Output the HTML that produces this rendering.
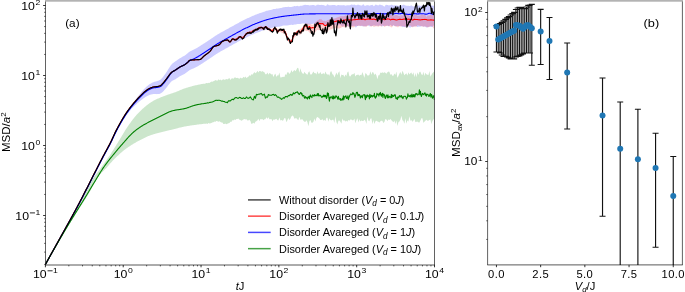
<!DOCTYPE html><html><head><meta charset="utf-8"><style>html,body{margin:0;padding:0;background:#fff;overflow:hidden;}svg{display:block;will-change:transform;}text{font-family:"Liberation Sans",sans-serif;fill:#000;}</style></head><body>
<svg width="685" height="292" viewBox="0 0 685 292">
<rect width="685" height="292" fill="#fff"/>
<defs><clipPath id="cl"><rect x="45.5" y="0" width="389" height="265.0"/></clipPath><clipPath id="cr"><rect x="487.6" y="0" width="194.8" height="264.9"/></clipPath></defs>
<g clip-path="url(#cl)">
<path d="M45.4,263.9 L45.9,263.36 L46.4,262.64 L46.9,261.74 L47.4,260.85 L47.9,259.95 L48.4,259.05 L48.9,258.16 L49.4,257.26 L49.9,256.37 L50.4,255.47 L50.9,254.57 L51.4,253.68 L51.9,252.78 L52.4,251.88 L52.9,250.99 L53.4,250.09 L53.9,249.2 L54.4,248.3 L54.9,247.4 L55.4,246.51 L55.9,245.61 L56.4,244.71 L56.9,243.82 L57.4,242.92 L57.9,242.02 L58.4,241.13 L58.9,240.23 L59.4,239.34 L59.9,238.44 L60.4,237.54 L60.9,236.65 L61.4,235.75 L61.9,234.85 L62.4,233.96 L62.9,233.06 L63.4,232.17 L63.9,231.27 L64.4,230.37 L64.9,229.48 L65.4,228.58 L65.9,227.68 L66.4,226.79 L66.9,225.89 L67.4,224.99 L67.9,224.1 L68.4,223.2 L68.9,222.31 L69.4,221.41 L69.9,220.51 L70.4,219.61 L70.9,218.7 L71.4,217.8 L71.9,216.89 L72.4,215.97 L72.9,215.06 L73.4,214.14 L73.9,213.22 L74.4,212.3 L74.9,211.38 L75.4,210.45 L75.9,209.53 L76.4,208.6 L76.9,207.66 L77.4,206.73 L77.9,205.79 L78.4,204.85 L78.9,203.91 L79.4,202.96 L79.9,202.01 L80.4,201.06 L80.9,200.11 L81.4,199.15 L81.9,198.19 L82.4,197.22 L82.9,196.25 L83.4,195.28 L83.9,194.3 L84.4,193.33 L84.9,192.35 L85.4,191.37 L85.9,190.39 L86.4,189.4 L86.9,188.42 L87.4,187.43 L87.9,186.45 L88.4,185.46 L88.9,184.47 L89.4,183.49 L89.9,182.5 L90.4,181.52 L90.9,180.54 L91.4,179.55 L91.9,178.58 L92.4,177.6 L92.9,176.62 L93.4,175.64 L93.9,174.67 L94.4,173.69 L94.9,172.71 L95.4,171.73 L95.9,170.75 L96.4,169.77 L96.9,168.8 L97.4,167.82 L97.9,166.84 L98.4,165.87 L98.9,164.89 L99.4,163.92 L99.9,162.95 L100.4,161.98 L100.9,161.01 L101.4,160.05 L101.9,159.09 L102.4,158.14 L102.9,157.19 L103.4,156.26 L103.9,155.33 L104.4,154.4 L104.9,153.48 L105.4,152.56 L105.9,151.64 L106.4,150.72 L106.9,149.8 L107.4,148.87 L107.9,147.94 L108.4,147.01 L108.9,146.06 L109.4,145.11 L109.9,144.14 L110.4,143.15 L110.9,142.13 L111.4,141.1 L111.9,140.03 L112.4,138.95 L112.9,137.84 L113.4,136.72 L113.9,135.61 L114.4,134.52 L114.9,133.45 L115.4,132.4 L115.9,131.39 L116.4,130.38 L116.9,129.4 L117.4,128.43 L117.9,127.47 L118.4,126.52 L118.9,125.58 L119.4,124.65 L119.9,123.74 L120.4,122.83 L120.9,121.93 L121.4,121.03 L121.9,120.15 L122.4,119.28 L122.9,118.42 L123.4,117.57 L123.9,116.73 L124.4,115.91 L124.9,115.1 L125.4,114.3 L125.9,113.52 L126.4,112.75 L126.9,111.98 L127.4,111.23 L127.9,110.49 L128.4,109.77 L128.9,109.05 L129.4,108.35 L129.9,107.66 L130.4,106.91 L130.9,106.16 L131.4,105.42 L131.9,104.69 L132.4,103.97 L132.9,103.26 L133.4,102.56 L133.9,101.86 L134.4,101.18 L134.9,100.5 L135.4,99.82 L135.9,99.15 L136.4,98.49 L136.9,97.84 L137.4,97.2 L137.9,96.56 L138.4,95.92 L138.9,95.3 L139.4,94.68 L139.9,94.06 L140.4,93.45 L140.9,92.83 L141.4,92.23 L141.9,91.62 L142.4,91.02 L142.9,90.44 L143.4,89.87 L143.9,89.31 L144.4,88.78 L144.9,88.27 L145.4,87.77 L145.9,87.29 L146.4,86.83 L146.9,86.37 L147.4,85.93 L147.9,85.5 L148.4,85.1 L148.9,84.71 L149.4,84.36 L149.9,84.02 L150.4,83.71 L150.9,83.42 L151.4,83.14 L151.9,82.87 L152.4,82.62 L152.9,82.39 L153.4,82.18 L153.9,81.99 L154.4,81.82 L154.9,81.66 L155.4,81.54 L155.9,81.42 L156.4,81.3 L156.9,81.17 L157.4,81.03 L157.9,80.87 L158.4,80.69 L158.9,80.49 L159.4,80.27 L159.9,80.01 L160.4,79.69 L160.9,79.3 L161.4,78.84 L161.9,78.31 L162.4,77.72 L162.9,77.1 L163.4,76.46 L163.9,75.8 L164.4,75.12 L164.9,74.42 L165.4,73.69 L165.9,72.96 L166.4,72.2 L166.9,71.44 L167.4,70.65 L167.9,69.85 L168.4,69.05 L168.9,68.25 L169.4,67.47 L169.9,66.71 L170.4,65.99 L170.9,65.33 L171.4,64.68 L171.9,64.11 L172.4,63.62 L172.9,63.17 L173.4,62.76 L173.9,62.41 L174.4,62.06 L174.9,61.69 L175.4,61.36 L175.9,61.02 L176.4,60.68 L176.9,60.33 L177.4,59.98 L177.9,59.62 L178.4,59.27 L178.9,58.93 L179.4,58.59 L179.9,58.27 L180.4,57.97 L180.9,57.67 L181.4,57.39 L181.9,57.12 L182.4,56.85 L182.9,56.58 L183.4,56.3 L183.9,56.02 L184.4,55.72 L184.9,55.39 L185.4,55.05 L185.9,54.67 L186.4,54.27 L186.9,53.86 L187.4,53.43 L187.9,53.01 L188.4,52.6 L188.9,52.21 L189.4,51.85 L189.9,51.52 L190.4,51.23 L190.9,50.96 L191.4,50.72 L191.9,50.49 L192.4,50.27 L192.9,50.05 L193.4,49.83 L193.9,49.61 L194.4,49.37 L194.9,49.12 L195.4,48.86 L195.9,48.58 L196.4,48.29 L196.9,47.99 L197.4,47.69 L197.9,47.37 L198.4,47.05 L198.9,46.73 L199.4,46.4 L199.9,46.07 L200.4,45.75 L200.9,45.43 L201.4,45.11 L201.9,44.8 L202.4,44.48 L202.9,44.17 L203.4,43.85 L203.9,43.53 L204.4,43.21 L204.9,42.88 L205.4,42.56 L205.9,42.23 L206.4,41.9 L206.9,41.57 L207.4,41.24 L207.9,40.91 L208.4,40.58 L208.9,40.25 L209.4,39.92 L209.9,39.58 L210.4,39.25 L210.9,38.92 L211.4,38.58 L211.9,38.24 L212.4,37.9 L212.9,37.55 L213.4,37.21 L213.9,36.87 L214.4,36.53 L214.9,36.2 L215.4,35.86 L215.9,35.54 L216.4,35.21 L216.9,34.9 L217.4,34.59 L217.9,34.28 L218.4,33.99 L218.9,33.69 L219.4,33.41 L219.9,33.12 L220.4,32.84 L220.9,32.57 L221.4,32.29 L221.9,32.02 L222.4,31.75 L222.9,31.47 L223.4,31.2 L223.9,30.93 L224.4,30.65 L224.9,30.37 L225.4,30.1 L225.9,29.82 L226.4,29.54 L226.9,29.26 L227.4,28.98 L227.9,28.7 L228.4,28.42 L228.9,28.14 L229.4,27.86 L229.9,27.58 L230.4,27.31 L230.9,27.03 L231.4,26.75 L231.9,26.48 L232.4,26.2 L232.9,25.93 L233.4,25.66 L233.9,25.38 L234.4,25.11 L234.9,24.83 L235.4,24.55 L235.9,24.28 L236.4,24 L236.9,23.73 L237.4,23.45 L237.9,23.18 L238.4,22.91 L238.9,22.64 L239.4,22.37 L239.9,22.1 L240.4,21.83 L240.9,21.57 L241.4,21.31 L241.9,21.05 L242.4,20.8 L242.9,20.55 L243.4,20.3 L243.9,20.05 L244.4,19.81 L244.9,19.56 L245.4,19.32 L245.9,19.08 L246.4,18.84 L246.9,18.6 L247.4,18.36 L247.9,18.12 L248.4,17.89 L248.9,17.65 L249.4,17.42 L249.9,17.19 L250.4,16.96 L250.9,16.74 L251.4,16.51 L251.9,16.29 L252.4,16.07 L252.9,15.85 L253.4,15.64 L253.9,15.43 L254.4,15.22 L254.9,15.01 L255.4,14.8 L255.9,14.62 L256.4,14.45 L256.9,14.29 L257.4,14.08 L257.9,13.87 L258.4,13.65 L258.9,13.46 L259.4,13.27 L259.9,13.08 L260.4,12.94 L260.9,12.81 L261.4,12.69 L261.9,12.52 L262.4,12.36 L262.9,12.2 L263.4,12.01 L263.9,11.82 L264.4,11.63 L264.9,11.41 L265.4,11.18 L265.9,10.96 L266.4,10.84 L266.9,10.74 L267.4,10.63 L267.9,10.54 L268.4,10.45 L268.9,10.37 L269.4,10.22 L269.9,10.08 L270.4,9.94 L270.9,9.89 L271.4,9.85 L271.9,9.81 L272.4,9.57 L272.9,9.32 L273.4,9.07 L273.9,9.07 L274.4,9.07 L274.9,9.07 L275.4,8.91 L275.9,8.74 L276.4,8.58 L276.9,8.59 L277.4,8.62 L277.9,8.64 L278.4,8.48 L278.9,8.31 L279.4,8.14 L279.9,8.13 L280.4,8.12 L280.9,8.12 L281.4,7.94 L281.9,7.75 L282.4,7.57 L282.9,7.44 L283.4,7.32 L283.9,7.2 L284.4,7.15 L284.9,7.1 L285.4,7.06 L285.9,7.03 L286.4,7.01 L286.9,6.98 L287.4,6.89 L287.9,6.8 L288.4,6.71 L288.9,6.83 L289.4,6.96 L289.9,7.1 L290.4,7.06 L290.9,7.03 L291.4,6.99 L291.9,6.85 L292.4,6.71 L292.9,6.57 L293.4,6.41 L293.9,6.24 L294.4,6.07 L294.9,6.1 L295.4,6.14 L295.9,6.17 L296.4,6.07 L296.9,5.96 L297.4,5.85 L297.9,6.01 L298.4,6.17 L298.9,6.34 L299.4,6.17 L299.9,6.01 L300.4,5.84 L300.9,5.81 L301.4,5.78 L301.9,5.75 L302.4,5.61 L302.9,5.47 L303.4,5.34 L303.9,5.12 L304.4,4.91 L304.9,4.69 L305.4,4.81 L305.9,4.93 L306.4,5.06 L306.9,5 L307.4,4.95 L307.9,4.89 L308.4,5.06 L308.9,5.23 L309.4,5.41 L309.9,5.36 L310.4,5.32 L310.9,5.28 L311.4,5.16 L311.9,5.03 L312.4,4.91 L312.9,4.95 L313.4,5 L313.9,5.05 L314.4,5.3 L314.9,5.56 L315.4,5.83 L315.9,5.48 L316.4,5.13 L316.9,4.77 L317.4,4.77 L317.9,4.77 L318.4,4.78 L318.9,4.87 L319.4,4.97 L319.9,5.06 L320.4,4.99 L320.9,4.92 L321.4,4.85 L321.9,4.89 L322.4,4.93 L322.9,4.97 L323.4,5.11 L323.9,5.26 L324.4,5.41 L324.9,5.6 L325.4,5.79 L325.9,5.98 L326.4,5.43 L326.9,4.87 L327.4,4.3 L327.9,4.58 L328.4,4.87 L328.9,5.15 L329.4,5.16 L329.9,5.17 L330.4,5.18 L330.9,5.16 L331.4,5.14 L331.9,5.12 L332.4,5.1 L332.9,5.09 L333.4,5.08 L333.9,5.06 L334.4,5.04 L334.9,5.02 L335.4,5.25 L335.9,5.49 L336.4,5.72 L336.9,5.47 L337.4,5.22 L337.9,4.97 L338.4,5.02 L338.9,5.07 L339.4,5.13 L339.9,5.15 L340.4,5.16 L340.9,5.18 L341.4,5.2 L341.9,5.21 L342.4,5.23 L342.9,5.18 L343.4,5.13 L343.9,5.09 L344.4,5.29 L344.9,5.49 L345.4,5.7 L345.9,5.54 L346.4,5.38 L346.9,5.22 L347.4,5.28 L347.9,5.32 L348.4,5.35 L348.9,5.3 L349.4,5.24 L349.9,5.17 L350.4,4.97 L350.9,4.78 L351.4,4.59 L351.9,4.61 L352.4,4.64 L352.9,4.68 L353.4,4.66 L353.9,4.63 L354.4,4.6 L354.9,4.83 L355.4,5.06 L355.9,5.29 L356.4,5.14 L356.9,4.99 L357.4,4.84 L357.9,4.79 L358.4,4.73 L358.9,4.68 L359.4,4.91 L359.9,5.14 L360.4,5.37 L360.9,5.41 L361.4,5.44 L361.9,5.47 L362.4,5.04 L362.9,4.62 L363.4,4.2 L363.9,4.81 L364.4,5.43 L364.9,6.06 L365.4,5.79 L365.9,5.5 L366.4,5.21 L366.9,5.19 L367.4,5.16 L367.9,5.12 L368.4,5.31 L368.9,5.51 L369.4,5.72 L369.9,5.54 L370.4,5.37 L370.9,5.2 L371.4,5.09 L371.9,4.98 L372.4,4.86 L372.9,5.36 L373.4,5.87 L373.9,6.37 L374.4,5.77 L374.9,5.17 L375.4,4.56 L375.9,4.71 L376.4,4.86 L376.9,5.01 L377.4,5.15 L377.9,5.3 L378.4,5.47 L378.9,5.12 L379.4,4.8 L379.9,4.48 L380.4,4.7 L380.9,4.91 L381.4,5.12 L381.9,5.24 L382.4,5.37 L382.9,5.49 L383.4,5.89 L383.9,6.28 L384.4,6.64 L384.9,6.01 L385.4,5.36 L385.9,4.68 L386.4,4.77 L386.9,4.88 L387.4,5 L387.9,5.12 L388.4,5.26 L388.9,5.42 L389.4,5.34 L389.9,5.26 L390.4,5.19 L390.9,4.98 L391.4,4.78 L391.9,4.58 L392.4,4.92 L392.9,5.23 L393.4,5.53 L393.9,5.44 L394.4,5.34 L394.9,5.21 L395.4,5.19 L395.9,5.21 L396.4,5.25 L396.9,5.38 L397.4,5.54 L397.9,5.72 L398.4,5.76 L398.9,5.77 L399.4,5.76 L399.9,5.64 L400.4,5.49 L400.9,5.31 L401.4,5.24 L401.9,5.19 L402.4,5.18 L402.9,4.95 L403.4,4.76 L403.9,4.6 L404.4,4.89 L404.9,5.17 L405.4,5.45 L405.9,5.6 L406.4,5.74 L406.9,5.87 L407.4,5.82 L407.9,5.75 L408.4,5.67 L408.9,5.78 L409.4,5.88 L409.9,5.97 L410.4,5.78 L410.9,5.57 L411.4,5.34 L411.9,5.72 L412.4,6.08 L412.9,6.41 L413.4,6.41 L413.9,6.44 L414.4,6.51 L414.9,6 L415.4,5.53 L415.9,5.09 L416.4,5.3 L416.9,5.49 L417.4,5.67 L417.9,5.55 L418.4,5.41 L418.9,5.25 L419.4,5.51 L419.9,5.77 L420.4,6.04 L420.9,5.87 L421.4,5.7 L421.9,5.54 L422.4,5.47 L422.9,5.41 L423.4,5.38 L423.9,5.38 L424.4,5.39 L424.9,5.43 L425.4,5.59 L425.9,5.7 L426.4,5.75 L426.9,5.46 L427.4,5.11 L427.9,4.7 L428.4,4.84 L428.9,5.05 L429.4,5.34 L429.9,5.08 L430.4,4.89 L430.9,4.77 L431.4,5.18 L431.9,5.54 L432.4,5.86 L432.9,5.8 L433.4,5.69 L433.9,5.55 L434.4,5.7 L434.4,25.82 L433.9,25.15 L433.4,25.87 L432.9,26.56 L432.4,27.21 L431.9,27.11 L431.4,26.97 L430.9,26.79 L430.4,26.7 L429.9,26.69 L429.4,26.75 L428.9,26.84 L428.4,26.99 L427.9,27.22 L427.4,27.37 L426.9,27.46 L426.4,27.49 L425.9,27.17 L425.4,26.8 L424.9,26.38 L424.4,26.52 L423.9,26.69 L423.4,26.87 L422.9,26.59 L422.4,26.34 L421.9,26.11 L421.4,26.33 L420.9,26.56 L420.4,26.79 L419.9,26.72 L419.4,26.66 L418.9,26.6 L418.4,26.78 L417.9,26.94 L417.4,27.08 L416.9,26.66 L416.4,26.22 L415.9,25.77 L415.4,26.02 L414.9,26.3 L414.4,26.63 L413.9,26.56 L413.4,26.53 L412.9,26.53 L412.4,26.66 L411.9,26.77 L411.4,26.86 L410.9,27.15 L410.4,27.43 L409.9,27.68 L409.4,27.27 L408.9,26.84 L408.4,26.4 L407.9,26.32 L407.4,26.22 L406.9,26.11 L406.4,26.51 L405.9,26.9 L405.4,27.28 L404.9,27.15 L404.4,27 L403.9,26.85 L403.4,26.93 L402.9,27.05 L402.4,27.2 L401.9,26.66 L401.4,26.16 L400.9,25.69 L400.4,25.93 L399.9,26.15 L399.4,26.34 L398.9,26.18 L398.4,26 L397.9,25.79 L397.4,26.01 L396.9,26.26 L396.4,26.53 L395.9,26.31 L395.4,26.12 L394.9,25.95 L394.4,25.79 L393.9,25.61 L393.4,25.4 L392.9,25.65 L392.4,25.88 L391.9,26.08 L391.4,25.64 L390.9,25.19 L390.4,24.75 L389.9,25.35 L389.4,25.96 L388.9,26.56 L388.4,26.21 L387.9,25.87 L387.4,25.55 L386.9,25.62 L386.4,25.71 L385.9,25.82 L385.4,25.79 L384.9,25.75 L384.4,25.68 L383.9,25.91 L383.4,26.12 L382.9,26.31 L382.4,26.27 L381.9,26.22 L381.4,26.16 L380.9,25.85 L380.4,25.54 L379.9,25.22 L379.4,25.44 L378.9,25.68 L378.4,25.92 L377.9,25.8 L377.4,25.69 L376.9,25.6 L376.4,25.65 L375.9,25.7 L375.4,25.75 L374.9,25.6 L374.4,25.44 L373.9,25.28 L373.4,25.51 L372.9,25.72 L372.4,25.93 L371.9,25.92 L371.4,25.91 L370.9,25.89 L370.4,26.03 L369.9,26.17 L369.4,26.31 L368.9,25.96 L368.4,25.62 L367.9,25.28 L367.4,25.57 L366.9,25.86 L366.4,26.14 L365.9,26.24 L365.4,26.34 L364.9,26.43 L364.4,26.34 L363.9,26.27 L363.4,26.2 L362.9,26.2 L362.4,26.21 L361.9,26.22 L361.4,26.09 L360.9,25.95 L360.4,25.81 L359.9,25.8 L359.4,25.79 L358.9,25.77 L358.4,25.87 L357.9,25.96 L357.4,26.06 L356.9,26.59 L356.4,27.11 L355.9,27.63 L355.4,27 L354.9,26.37 L354.4,25.74 L353.9,25.81 L353.4,25.88 L352.9,25.95 L352.4,26.02 L351.9,26.11 L351.4,26.2 L350.9,26.08 L350.4,25.97 L349.9,25.87 L349.4,26.13 L348.9,26.37 L348.4,26.6 L347.9,26.35 L347.4,26.09 L346.9,25.82 L346.4,25.58 L345.9,25.35 L345.4,25.12 L344.9,25.22 L344.4,25.33 L343.9,25.44 L343.4,25.88 L342.9,26.32 L342.4,26.76 L341.9,26.29 L341.4,25.82 L340.9,25.36 L340.4,25.01 L339.9,24.67 L339.4,24.33 L338.9,24.83 L338.4,25.34 L337.9,25.84 L337.4,25.49 L336.9,25.14 L336.4,24.78 L335.9,24.87 L335.4,24.95 L334.9,25.03 L334.4,24.92 L333.9,24.8 L333.4,24.68 L332.9,24.81 L332.4,24.93 L331.9,25.06 L331.4,25.09 L330.9,25.12 L330.4,25.15 L329.9,25.12 L329.4,25.09 L328.9,25.05 L328.4,25.06 L327.9,25.07 L327.4,25.08 L326.9,24.96 L326.4,24.85 L325.9,24.73 L325.4,24.66 L324.9,24.58 L324.4,24.51 L323.9,24.51 L323.4,24.52 L322.9,24.52 L322.4,24.61 L321.9,24.69 L321.4,24.77 L320.9,24.74 L320.4,24.72 L319.9,24.7 L319.4,24.61 L318.9,24.53 L318.4,24.45 L317.9,24.58 L317.4,24.71 L316.9,24.84 L316.4,24.54 L315.9,24.24 L315.4,23.94 L314.9,23.81 L314.4,23.69 L313.9,23.56 L313.4,23.69 L312.9,23.82 L312.4,23.94 L311.9,23.95 L311.4,23.95 L310.9,23.96 L310.4,24.15 L309.9,24.33 L309.4,24.51 L308.9,24.33 L308.4,24.16 L307.9,23.99 L307.4,24.09 L306.9,24.2 L306.4,24.3 L305.9,24.11 L305.4,23.92 L304.9,23.75 L304.4,23.64 L303.9,23.54 L303.4,23.45 L302.9,23.5 L302.4,23.55 L301.9,23.6 L301.4,23.75 L300.9,23.9 L300.4,24.05 L299.9,24 L299.4,23.97 L298.9,23.95 L298.4,23.97 L297.9,23.99 L297.4,24.02 L296.9,24.18 L296.4,24.35 L295.9,24.51 L295.4,24.54 L294.9,24.58 L294.4,24.61 L293.9,24.74 L293.4,24.86 L292.9,24.98 L292.4,24.9 L291.9,24.83 L291.4,24.76 L290.9,24.84 L290.4,24.92 L289.9,25 L289.4,25.07 L288.9,25.14 L288.4,25.21 L287.9,25.3 L287.4,25.4 L286.9,25.49 L286.4,25.52 L285.9,25.55 L285.4,25.58 L284.9,25.51 L284.4,25.45 L283.9,25.39 L283.4,25.55 L282.9,25.7 L282.4,25.85 L281.9,26.01 L281.4,26.17 L280.9,26.33 L280.4,26.44 L279.9,26.55 L279.4,26.65 L278.9,26.71 L278.4,26.77 L277.9,26.82 L277.4,26.86 L276.9,26.9 L276.4,26.94 L275.9,27.09 L275.4,27.24 L274.9,27.39 L274.4,27.49 L273.9,27.6 L273.4,27.7 L272.9,27.75 L272.4,27.81 L271.9,27.86 L271.4,28 L270.9,28.13 L270.4,28.26 L269.9,28.45 L269.4,28.64 L268.9,28.83 L268.4,28.96 L267.9,29.09 L267.4,29.22 L266.9,29.38 L266.4,29.54 L265.9,29.71 L265.4,29.77 L264.9,29.85 L264.4,29.93 L263.9,30.12 L263.4,30.31 L262.9,30.5 L262.4,30.66 L261.9,30.82 L261.4,30.99 L260.9,31.23 L260.4,31.47 L259.9,31.7 L259.4,31.89 L258.9,32.07 L258.4,32.26 L257.9,32.43 L257.4,32.6 L256.9,32.78 L256.4,32.95 L255.9,33.13 L255.4,33.32 L254.9,33.54 L254.4,33.77 L253.9,33.99 L253.4,34.2 L252.9,34.41 L252.4,34.63 L251.9,34.85 L251.4,35.07 L250.9,35.3 L250.4,35.54 L249.9,35.77 L249.4,36 L248.9,36.24 L248.4,36.48 L247.9,36.72 L247.4,36.96 L246.9,37.2 L246.4,37.44 L245.9,37.68 L245.4,37.93 L244.9,38.18 L244.4,38.42 L243.9,38.67 L243.4,38.92 L242.9,39.17 L242.4,39.43 L241.9,39.69 L241.4,39.95 L240.9,40.21 L240.4,40.48 L239.9,40.75 L239.4,41.02 L238.9,41.29 L238.4,41.56 L237.9,41.84 L237.4,42.12 L236.9,42.4 L236.4,42.67 L235.9,42.95 L235.4,43.23 L234.9,43.51 L234.4,43.79 L233.9,44.07 L233.4,44.35 L232.9,44.62 L232.4,44.9 L231.9,45.18 L231.4,45.46 L230.9,45.74 L230.4,46.02 L229.9,46.3 L229.4,46.58 L228.9,46.86 L228.4,47.14 L227.9,47.43 L227.4,47.71 L226.9,47.99 L226.4,48.28 L225.9,48.56 L225.4,48.84 L224.9,49.12 L224.4,49.4 L223.9,49.68 L223.4,49.96 L222.9,50.23 L222.4,50.51 L221.9,50.79 L221.4,51.06 L220.9,51.34 L220.4,51.62 L219.9,51.91 L219.4,52.19 L218.9,52.48 L218.4,52.78 L217.9,53.08 L217.4,53.39 L216.9,53.7 L216.4,54.02 L215.9,54.34 L215.4,54.68 L214.9,55.01 L214.4,55.35 L213.9,55.69 L213.4,56.04 L212.9,56.38 L212.4,56.73 L211.9,57.07 L211.4,57.42 L210.9,57.76 L210.4,58.1 L209.9,58.43 L209.4,58.77 L208.9,59.1 L208.4,59.44 L207.9,59.77 L207.4,60.11 L206.9,60.44 L206.4,60.77 L205.9,61.11 L205.4,61.44 L204.9,61.77 L204.4,62.09 L203.9,62.42 L203.4,62.74 L202.9,63.06 L202.4,63.38 L201.9,63.7 L201.4,64.02 L200.9,64.34 L200.4,64.66 L199.9,64.98 L199.4,65.29 L198.9,65.6 L198.4,65.9 L197.9,66.2 L197.4,66.49 L196.9,66.77 L196.4,67.05 L195.9,67.32 L195.4,67.57 L194.9,67.82 L194.4,68.04 L193.9,68.26 L193.4,68.46 L192.9,68.66 L192.4,68.85 L191.9,69.05 L191.4,69.26 L190.9,69.48 L190.4,69.72 L189.9,70 L189.4,70.3 L188.9,70.64 L188.4,71.01 L187.9,71.4 L187.4,71.8 L186.9,72.2 L186.4,72.6 L185.9,72.97 L185.4,73.32 L184.9,73.65 L184.4,73.95 L183.9,74.23 L183.4,74.5 L182.9,74.75 L182.4,75 L181.9,75.25 L181.4,75.5 L180.9,75.76 L180.4,76.03 L179.9,76.31 L179.4,76.61 L178.9,76.92 L178.4,77.24 L177.9,77.57 L177.4,77.9 L176.9,78.24 L176.4,78.57 L175.9,78.89 L175.4,79.2 L174.9,79.49 L174.4,79.72 L173.9,79.94 L173.4,80.15 L172.9,80.43 L172.4,80.74 L171.9,81.1 L171.4,81.53 L170.9,82.05 L170.4,82.58 L169.9,83.16 L169.4,83.78 L168.9,84.43 L168.4,85.1 L167.9,85.77 L167.4,86.43 L166.9,87.08 L166.4,87.71 L165.9,88.33 L165.4,88.94 L164.9,89.52 L164.4,90.09 L163.9,90.64 L163.4,91.16 L162.9,91.67 L162.4,92.16 L161.9,92.61 L161.4,93.01 L160.9,93.34 L160.4,93.59 L159.9,93.77 L159.4,93.9 L158.9,93.99 L158.4,94.05 L157.9,94.1 L157.4,94.12 L156.9,94.13 L156.4,94.12 L155.9,94.11 L155.4,94.09 L154.9,94.08 L154.4,94.07 L153.9,94.08 L153.4,94.11 L152.9,94.16 L152.4,94.23 L151.9,94.31 L151.4,94.42 L150.9,94.53 L150.4,94.67 L149.9,94.82 L149.4,94.99 L148.9,95.18 L148.4,95.4 L147.9,95.64 L147.4,95.9 L146.9,96.18 L146.4,96.47 L145.9,96.78 L145.4,97.09 L144.9,97.42 L144.4,97.73 L143.9,98.05 L143.4,98.4 L142.9,98.77 L142.4,99.15 L141.9,99.55 L141.4,99.95 L140.9,100.35 L140.4,100.76 L139.9,101.17 L139.4,101.58 L138.9,102 L138.4,102.42 L137.9,102.85 L137.4,103.29 L136.9,103.73 L136.4,104.18 L135.9,104.63 L135.4,105.1 L134.9,105.57 L134.4,106.04 L133.9,106.53 L133.4,107.02 L132.9,107.52 L132.4,108.02 L131.9,108.54 L131.4,109.06 L130.9,109.6 L130.4,110.15 L129.9,110.72 L129.4,111.35 L128.9,111.99 L128.4,112.64 L127.9,113.31 L127.4,113.98 L126.9,114.67 L126.4,115.37 L125.9,116.08 L125.4,116.81 L124.9,117.54 L124.4,118.29 L123.9,119.05 L123.4,119.82 L122.9,120.61 L122.4,121.41 L121.9,122.22 L121.4,123.04 L120.9,123.87 L120.4,124.71 L119.9,125.56 L119.4,126.41 L118.9,127.28 L118.4,128.15 L117.9,129.04 L117.4,129.94 L116.9,130.85 L116.4,131.78 L115.9,132.71 L115.4,133.67 L114.9,134.65 L114.4,135.66 L113.9,136.69 L113.4,137.75 L112.9,138.8 L112.4,139.85 L111.9,140.87 L111.4,141.87 L110.9,142.85 L110.4,143.8 L109.9,144.75 L109.4,145.71 L108.9,146.66 L108.4,147.6 L107.9,148.53 L107.4,149.46 L106.9,150.38 L106.4,151.29 L105.9,152.21 L105.4,153.12 L104.9,154.04 L104.4,154.95 L103.9,155.88 L103.4,156.8 L102.9,157.74 L102.4,158.68 L101.9,159.62 L101.4,160.58 L100.9,161.54 L100.4,162.5 L99.9,163.46 L99.4,164.43 L98.9,165.39 L98.4,166.36 L97.9,167.33 L97.4,168.31 L96.9,169.28 L96.4,170.25 L95.9,171.23 L95.4,172.2 L94.9,173.18 L94.4,174.15 L93.9,175.12 L93.4,176.09 L92.9,177.07 L92.4,178.04 L91.9,179.01 L91.4,179.99 L90.9,180.96 L90.4,181.94 L89.9,182.92 L89.4,183.9 L88.9,184.88 L88.4,185.86 L87.9,186.85 L87.4,187.83 L86.9,188.81 L86.4,189.79 L85.9,190.77 L85.4,191.74 L84.9,192.72 L84.4,193.69 L83.9,194.67 L83.4,195.64 L82.9,196.6 L82.4,197.57 L81.9,198.53 L81.4,199.49 L80.9,200.44 L80.4,201.39 L79.9,202.34 L79.4,203.28 L78.9,204.22 L78.4,205.16 L77.9,206.1 L77.4,207.03 L76.9,207.96 L76.4,208.89 L75.9,209.81 L75.4,210.74 L74.9,211.66 L74.4,212.58 L73.9,213.49 L73.4,214.41 L72.9,215.32 L72.4,216.23 L71.9,217.14 L71.4,218.04 L70.9,218.94 L70.4,219.84 L69.9,220.74 L69.4,221.63 L68.9,222.53 L68.4,223.42 L67.9,224.31 L67.4,225.2 L66.9,226.09 L66.4,226.99 L65.9,227.88 L65.4,228.77 L64.9,229.66 L64.4,230.55 L63.9,231.44 L63.4,232.33 L62.9,233.23 L62.4,234.12 L61.9,235.01 L61.4,235.9 L60.9,236.79 L60.4,237.68 L59.9,238.58 L59.4,239.47 L58.9,240.36 L58.4,241.25 L57.9,242.14 L57.4,243.03 L56.9,243.93 L56.4,244.82 L55.9,245.71 L55.4,246.6 L54.9,247.49 L54.4,248.38 L53.9,249.28 L53.4,250.17 L52.9,251.06 L52.4,251.95 L51.9,252.84 L51.4,253.73 L50.9,254.62 L50.4,255.52 L49.9,256.41 L49.4,257.3 L48.9,258.19 L48.4,259.08 L47.9,259.97 L47.4,260.87 L46.9,261.76 L46.4,262.65 L45.9,263.36 L45.4,263.9 Z" fill="#0000ff" fill-opacity="0.2"/>
<path d="M45.4,263.66 L45.9,263.14 L46.4,262.5 L46.9,261.73 L47.4,260.83 L47.9,259.93 L48.4,259.03 L48.9,258.13 L49.4,257.23 L49.9,256.33 L50.4,255.43 L50.9,254.53 L51.4,253.63 L51.9,252.73 L52.4,251.83 L52.9,250.94 L53.4,250.04 L53.9,249.14 L54.4,248.24 L54.9,247.34 L55.4,246.44 L55.9,245.54 L56.4,244.64 L56.9,243.74 L57.4,242.84 L57.9,241.94 L58.4,241.04 L58.9,240.14 L59.4,239.24 L59.9,238.34 L60.4,237.44 L60.9,236.54 L61.4,235.64 L61.9,234.74 L62.4,233.84 L62.9,232.94 L63.4,232.05 L63.9,231.15 L64.4,230.25 L64.9,229.35 L65.4,228.45 L65.9,227.55 L66.4,226.65 L66.9,225.75 L67.4,224.85 L67.9,223.95 L68.4,223.05 L68.9,222.15 L69.4,221.25 L69.9,220.35 L70.4,219.44 L70.9,218.53 L71.4,217.62 L71.9,216.71 L72.4,215.79 L72.9,214.88 L73.4,213.96 L73.9,213.04 L74.4,212.11 L74.9,211.18 L75.4,210.26 L75.9,209.32 L76.4,208.39 L76.9,207.45 L77.4,206.52 L77.9,205.57 L78.4,204.63 L78.9,203.68 L79.4,202.74 L79.9,201.78 L80.4,200.83 L80.9,199.87 L81.4,198.91 L81.9,197.94 L82.4,196.97 L82.9,196 L83.4,195.03 L83.9,194.05 L84.4,193.07 L84.9,192.09 L85.4,191.1 L85.9,190.12 L86.4,189.13 L86.9,188.15 L87.4,187.16 L87.9,186.17 L88.4,185.18 L88.9,184.19 L89.4,183.2 L89.9,182.21 L90.4,181.22 L90.9,180.24 L91.4,179.25 L91.9,178.27 L92.4,177.29 L92.9,176.3 L93.4,175.32 L93.9,174.34 L94.4,173.36 L94.9,172.38 L95.4,171.39 L95.9,170.41 L96.4,169.43 L96.9,168.45 L97.4,167.46 L97.9,166.48 L98.4,165.5 L98.9,164.52 L99.4,163.55 L99.9,162.57 L100.4,161.6 L100.9,160.63 L101.4,159.67 L101.9,158.7 L102.4,157.75 L102.9,156.8 L103.4,155.86 L103.9,154.92 L104.4,153.99 L104.9,153.06 L105.4,152.13 L105.9,151.21 L106.4,150.28 L106.9,149.36 L107.4,148.43 L107.9,147.49 L108.4,146.55 L108.9,145.6 L109.4,144.64 L109.9,143.67 L110.4,142.68 L110.9,141.68 L111.4,140.65 L111.9,139.6 L112.4,138.54 L112.9,137.46 L113.4,136.37 L113.9,135.29 L114.4,134.22 L114.9,133.17 L115.4,132.13 L115.9,131.13 L116.4,130.14 L116.9,129.17 L117.4,128.21 L117.9,127.26 L118.4,126.33 L118.9,125.41 L119.4,124.5 L119.9,123.6 L120.4,122.71 L120.9,121.83 L121.4,120.96 L121.9,120.1 L122.4,119.25 L122.9,118.41 L123.4,117.58 L123.9,116.77 L124.4,115.97 L124.9,115.18 L125.4,114.41 L125.9,113.64 L126.4,112.89 L126.9,112.15 L127.4,111.42 L127.9,110.71 L128.4,110 L128.9,109.31 L129.4,108.63 L129.9,107.96 L130.4,107.3 L130.9,106.65 L131.4,106.02 L131.9,105.39 L132.4,104.78 L132.9,104.17 L133.4,103.58 L133.9,102.99 L134.4,102.4 L134.9,101.83 L135.4,101.26 L135.9,100.69 L136.4,100.14 L136.9,99.58 L137.4,99.04 L137.9,98.5 L138.4,97.97 L138.9,97.45 L139.4,96.92 L139.9,96.41 L140.4,95.89 L140.9,95.38 L141.4,94.87 L141.9,94.37 L142.4,93.87 L142.9,93.39 L143.4,92.92 L143.9,92.47 L144.4,92.03 L144.9,91.61 L145.4,91.21 L145.9,90.82 L146.4,90.44 L146.9,90.08 L147.4,89.73 L147.9,89.4 L148.4,89.09 L148.9,88.8 L149.4,88.53 L149.9,88.29 L150.4,88.06 L150.9,87.85 L151.4,87.66 L151.9,87.48 L152.4,87.33 L152.9,87.18 L153.4,87.06 L153.9,86.96 L154.4,86.87 L154.9,86.8 L155.4,86.74 L155.9,86.68 L156.4,86.62 L156.9,86.56 L157.4,86.48 L157.9,86.39 L158.4,86.28 L158.9,86.14 L159.4,85.98 L159.9,85.76 L160.4,85.49 L160.9,85.16 L161.4,84.77 L161.9,84.33 L162.4,83.83 L162.9,83.29 L163.4,82.71 L163.9,82.12 L164.4,81.52 L164.9,80.9 L165.4,80.27 L165.9,79.63 L166.4,78.98 L166.9,78.31 L167.4,77.64 L167.9,76.96 L168.4,76.27 L168.9,75.59 L169.4,74.93 L169.9,74.29 L170.4,73.69 L170.9,73.14 L171.4,72.65 L171.9,72.21 L172.4,71.83 L172.9,71.49 L173.4,71.18 L173.9,70.89 L174.4,70.6 L174.9,70.32 L175.4,70.01 L175.9,69.7 L176.4,69.37 L176.9,69.04 L177.4,68.7 L177.9,68.36 L178.4,68.03 L178.9,67.7 L179.4,67.39 L179.9,67.1 L180.4,66.81 L180.9,66.54 L181.4,66.29 L181.9,66.04 L182.4,65.79 L182.9,65.55 L183.4,65.29 L183.9,65.03 L184.4,64.73 L184.9,64.42 L185.4,64.07 L185.9,63.7 L186.4,63.3 L186.9,62.86 L187.4,62.39 L187.9,61.9 L188.4,61.44 L188.9,61.02 L189.4,60.65 L189.9,60.35 L190.4,60.12 L190.9,59.96 L191.4,59.87 L191.9,59.82 L192.4,59.77 L192.9,59.73 L193.4,59.69 L193.9,59.65 L194.4,59.62 L194.9,59.58 L195.4,59.55 L195.9,59.51 L196.4,59.48 L196.9,59.45 L197.4,59.42 L197.9,59.38 L198.4,59.34 L198.9,59.29 L199.4,59.2 L199.9,59.06 L200.4,58.84 L200.9,58.55 L201.4,58.19 L201.9,57.76 L202.4,57.29 L202.9,56.8 L203.4,56.31 L203.9,55.84 L204.4,55.4 L204.9,54.99 L205.4,54.59 L205.9,54.21 L206.4,53.83 L206.9,53.44 L207.4,53.05 L207.9,52.65 L208.4,52.23 L208.9,51.78 L209.4,51.29 L209.9,50.75 L210.4,50.16 L210.9,49.53 L211.4,48.86 L211.9,48.19 L212.4,47.56 L212.9,47 L213.4,46.52 L213.9,46.14 L214.4,45.85 L214.9,45.64 L215.4,45.48 L215.9,45.34 L216.4,45.21 L216.9,45.07 L217.4,44.91 L217.9,44.71 L218.4,44.46 L218.9,44.13 L219.4,43.74 L219.9,43.28 L220.4,42.77 L220.9,42.24 L221.4,41.74 L221.9,41.28 L222.4,40.88 L222.9,40.55 L223.4,40.29 L223.9,40.08 L224.4,39.91 L224.9,39.76 L225.4,39.63 L225.9,39.52 L226.4,39.45 L226.9,39.47 L227.4,39.6 L227.9,39.81 L228.4,40.08 L228.9,40.33 L229.4,40.49 L229.9,40.5 L230.4,40.34 L230.9,40 L231.4,39.58 L231.9,39.15 L232.4,38.79 L232.9,38.56 L233.4,38.5 L233.9,38.48 L234.4,38.54 L234.9,38.58 L235.4,38.55 L235.9,38.4 L236.4,38.15 L236.9,37.78 L237.4,37.43 L237.9,37.04 L238.4,36.66 L238.9,36.34 L239.4,36.13 L239.9,36.05 L240.4,36.1 L240.9,36.22 L241.4,36.37 L241.9,36.47 L242.4,36.48 L242.9,36.35 L243.4,36.06 L243.9,35.6 L244.4,35.04 L244.9,34.43 L245.4,33.83 L245.9,33.26 L246.4,32.77 L246.9,32.36 L247.4,32.04 L247.9,31.79 L248.4,31.61 L248.9,31.49 L249.4,31.41 L249.9,31.32 L250.4,31.21 L250.9,31.04 L251.4,30.83 L251.9,30.58 L252.4,30.28 L252.9,29.96 L253.4,29.66 L253.9,29.41 L254.4,29.19 L254.9,28.99 L255.4,28.81 L255.9,28.59 L256.4,28.34 L256.9,28.04 L257.4,27.7 L257.9,27.36 L258.4,27.03 L258.9,26.79 L259.4,26.61 L259.9,26.51 L260.4,26.42 L260.9,26.41 L261.4,26.47 L261.9,26.63 L262.4,26.76 L262.9,26.83 L263.4,26.8 L263.9,26.69 L264.4,26.5 L264.9,26.34 L265.4,26.26 L265.9,26.31 L266.4,26.44 L266.9,26.68 L267.4,27 L267.9,27.28 L268.4,27.53 L268.9,27.74 L269.4,28.03 L269.9,28.33 L270.4,28.6 L270.9,28.75 L271.4,28.82 L271.9,28.74 L272.4,28.76 L272.9,28.65 L273.4,28.48 L273.9,28.06 L274.4,27.7 L274.9,27.5 L275.4,27.7 L275.9,28.12 L276.4,28.67 L276.9,28.99 L277.4,29.19 L277.9,29.23 L278.4,29.13 L278.9,28.86 L279.4,28.48 L279.9,28.46 L280.4,28.56 L280.9,28.81 L281.4,28.8 L281.9,28.85 L282.4,28.94 L282.9,29.17 L283.4,29.42 L283.9,29.71 L284.4,30.16 L284.9,30.83 L285.4,31.69 L285.9,32.73 L286.4,33.89 L286.9,35.11 L287.4,36.23 L287.9,37.18 L288.4,37.97 L288.9,38.43 L289.4,38.74 L289.9,38.88 L290.4,39.28 L290.9,39.44 L291.4,39.3 L291.9,38.37 L292.4,37.14 L292.9,35.72 L293.4,34.57 L293.9,33.62 L294.4,32.94 L294.9,32.61 L295.4,32.37 L295.9,32.17 L296.4,31.77 L296.9,31.33 L297.4,30.82 L297.9,30.22 L298.4,29.79 L298.9,29.52 L299.4,29.33 L299.9,29.06 L300.4,28.66 L300.9,28.55 L301.4,28.28 L301.9,27.87 L302.4,27.15 L302.9,26.41 L303.4,25.72 L303.9,24.98 L304.4,24.36 L304.9,23.88 L305.4,23.5 L305.9,23.3 L306.4,23.24 L306.9,23.4 L307.4,23.54 L307.9,23.62 L308.4,23.64 L308.9,23.64 L309.4,23.63 L309.9,23.82 L310.4,24.04 L310.9,24.31 L311.4,24.53 L311.9,24.68 L312.4,24.75 L312.9,24.65 L313.4,24.51 L313.9,24.33 L314.4,23.76 L314.9,23.06 L315.4,22.25 L315.9,21.83 L316.4,21.41 L316.9,21 L317.4,20.54 L317.9,20.19 L318.4,19.97 L318.9,19.61 L319.4,19.31 L319.9,19.06 L320.4,19.14 L320.9,19.23 L321.4,19.32 L321.9,19.8 L322.4,20.37 L322.9,21.02 L323.4,20.93 L323.9,20.85 L324.4,20.78 L324.9,21.12 L325.4,21.31 L325.9,21.33 L326.4,20.91 L326.9,20.47 L327.4,20.02 L327.9,19.9 L328.4,19.86 L328.9,19.9 L329.4,19.51 L329.9,19.03 L330.4,18.48 L330.9,18.57 L331.4,18.62 L331.9,18.64 L332.4,18.54 L332.9,18.49 L333.4,18.5 L333.9,18.49 L334.4,18.5 L334.9,18.54 L335.4,18.23 L335.9,17.94 L336.4,17.67 L336.9,17.49 L337.4,17.31 L337.9,17.13 L338.4,16.95 L338.9,16.8 L339.4,16.67 L339.9,16.51 L340.4,16.34 L340.9,16.15 L341.4,16.19 L341.9,16.21 L342.4,16.21 L342.9,16.24 L343.4,16.28 L343.9,16.32 L344.4,15.96 L344.9,15.63 L345.4,15.32 L345.9,15.63 L346.4,15.94 L346.9,16.25 L347.4,15.83 L347.9,15.41 L348.4,14.98 L348.9,14.78 L349.4,14.62 L349.9,14.49 L350.4,14.69 L350.9,14.87 L351.4,15.02 L351.9,14.87 L352.4,14.7 L352.9,14.51 L353.4,14.5 L353.9,14.49 L354.4,14.5 L354.9,14.98 L355.4,15.46 L355.9,15.92 L356.4,15.59 L356.9,15.26 L357.4,14.93 L357.9,14.97 L358.4,15.02 L358.9,15.07 L359.4,15.26 L359.9,15.47 L360.4,15.71 L360.9,15.74 L361.4,15.74 L361.9,15.72 L362.4,15.35 L362.9,15.01 L363.4,14.68 L363.9,15.07 L364.4,15.47 L364.9,15.88 L365.4,15.73 L365.9,15.52 L366.4,15.25 L366.9,15.07 L367.4,14.92 L367.9,14.79 L368.4,14.85 L368.9,14.92 L369.4,15.01 L369.9,14.63 L370.4,14.25 L370.9,13.89 L371.4,14.04 L371.9,14.18 L372.4,14.32 L372.9,14.49 L373.4,14.67 L373.9,14.88 L374.4,15.05 L374.9,15.2 L375.4,15.34 L375.9,15.1 L376.4,14.81 L376.9,14.46 L377.4,14.38 L377.9,14.35 L378.4,14.37 L378.9,14.59 L379.4,14.81 L379.9,15.04 L380.4,15.18 L380.9,15.32 L381.4,15.47 L381.9,15.38 L382.4,15.33 L382.9,15.31 L383.4,15.55 L383.9,15.76 L384.4,15.93 L384.9,15.57 L385.4,15.16 L385.9,14.7 L386.4,14.62 L386.9,14.55 L387.4,14.5 L387.9,14.61 L388.4,14.79 L388.9,15.04 L389.4,15.02 L389.9,14.97 L390.4,14.89 L390.9,14.89 L391.4,14.84 L391.9,14.75 L392.4,15.16 L392.9,15.61 L393.4,16.1 L393.9,15.74 L394.4,15.41 L394.9,15.1 L395.4,15.02 L395.9,14.91 L396.4,14.76 L396.9,15.07 L397.4,15.35 L397.9,15.59 L398.4,15.79 L398.9,16.01 L399.4,16.25 L399.9,15.83 L400.4,15.42 L400.9,15.03 L401.4,15.29 L401.9,15.53 L402.4,15.75 L402.9,15.33 L403.4,14.91 L403.9,14.47 L404.4,14.41 L404.9,14.38 L405.4,14.38 L405.9,14.35 L406.4,14.32 L406.9,14.28 L407.4,14.42 L407.9,14.57 L408.4,14.71 L408.9,15.16 L409.4,15.63 L409.9,16.11 L410.4,15.52 L410.9,14.94 L411.4,14.39 L411.9,15.08 L412.4,15.73 L412.9,16.34 L413.4,15.72 L413.9,15.09 L414.4,14.43 L414.9,14.52 L415.4,14.65 L415.9,14.82 L416.4,15.11 L416.9,15.4 L417.4,15.69 L417.9,15.69 L418.4,15.69 L418.9,15.71 L419.4,15.67 L419.9,15.6 L420.4,15.51 L420.9,15.04 L421.4,14.56 L421.9,14.07 L422.4,14.47 L422.9,14.87 L423.4,15.29 L423.9,14.95 L424.4,14.63 L424.9,14.32 L425.4,15.18 L425.9,16.06 L426.4,16.98 L426.9,16.43 L427.4,15.87 L427.9,15.29 L428.4,15.42 L428.9,15.53 L429.4,15.6 L429.9,15.26 L430.4,14.93 L430.9,14.62 L431.4,14.78 L431.9,14.96 L432.4,15.16 L432.9,15.03 L433.4,14.89 L433.9,14.74 L434.4,15.3 L434.4,27.78 L433.9,28.79 L433.4,27.96 L432.9,27.13 L432.4,26.28 L431.9,26.23 L431.4,26.19 L430.9,26.18 L430.4,26.36 L429.9,26.56 L429.4,26.77 L428.9,27.06 L428.4,27.32 L427.9,27.56 L427.4,27.31 L426.9,27.04 L426.4,26.76 L425.9,26.66 L425.4,26.6 L424.9,26.56 L424.4,26.57 L423.9,26.59 L423.4,26.63 L422.9,26.55 L422.4,26.49 L421.9,26.44 L421.4,26.27 L420.9,26.1 L420.4,25.91 L419.9,25.82 L419.4,25.69 L418.9,25.54 L418.4,25.43 L417.9,25.32 L417.4,25.22 L416.9,25.9 L416.4,26.58 L415.9,27.25 L415.4,26.87 L414.9,26.53 L414.4,26.23 L413.9,26.6 L413.4,26.96 L412.9,27.29 L412.4,27.18 L411.9,27.04 L411.4,26.84 L410.9,26.33 L410.4,25.84 L409.9,25.36 L409.4,25.65 L408.9,25.96 L408.4,26.28 L407.9,26.16 L407.4,26.03 L406.9,25.9 L406.4,26.21 L405.9,26.51 L405.4,26.8 L404.9,26.71 L404.4,26.64 L403.9,26.61 L403.4,26.43 L402.9,26.24 L402.4,26.05 L401.9,26.27 L401.4,26.47 L400.9,26.66 L400.4,26.45 L399.9,26.27 L399.4,26.11 L398.9,26.52 L398.4,26.94 L397.9,27.39 L397.4,27.05 L396.9,26.67 L396.4,26.26 L395.9,26.4 L395.4,26.51 L394.9,26.58 L394.4,26.06 L393.9,25.56 L393.4,25.09 L392.9,25.85 L392.4,26.64 L391.9,27.47 L391.4,27.22 L390.9,26.93 L390.4,26.6 L389.9,26.46 L389.4,26.3 L388.9,26.1 L388.4,25.96 L387.9,25.88 L387.4,25.87 L386.9,25.91 L386.4,25.97 L385.9,26.05 L385.4,26.38 L384.9,26.66 L384.4,26.9 L383.9,26.32 L383.4,25.71 L382.9,25.06 L382.4,25.56 L381.9,26.09 L381.4,26.67 L380.9,26.38 L380.4,26.09 L379.9,25.82 L379.4,26.14 L378.9,26.47 L378.4,26.81 L377.9,26.58 L377.4,26.41 L376.9,26.3 L376.4,26.37 L375.9,26.4 L375.4,26.37 L374.9,26.58 L374.4,26.78 L373.9,26.97 L373.4,26.57 L372.9,26.19 L372.4,25.83 L371.9,26.24 L371.4,26.65 L370.9,27.04 L370.4,26.31 L369.9,25.6 L369.4,24.89 L368.9,25.17 L368.4,25.47 L367.9,25.77 L367.4,26.05 L366.9,26.36 L366.4,26.69 L365.9,26.63 L365.4,26.51 L364.9,26.34 L364.4,26.43 L363.9,26.52 L363.4,26.62 L362.9,26.19 L362.4,25.79 L361.9,25.41 L361.4,25.75 L360.9,26.07 L360.4,26.35 L359.9,26.02 L359.4,25.7 L358.9,25.41 L358.4,25.64 L357.9,25.88 L357.4,26.12 L356.9,25.97 L356.4,25.82 L355.9,25.67 L355.4,26.15 L354.9,26.61 L354.4,27.08 L353.9,27.2 L353.4,27.33 L352.9,27.47 L352.4,27.24 L351.9,26.98 L351.4,26.71 L350.9,26.82 L350.4,26.9 L349.9,26.95 L349.4,26.83 L348.9,26.75 L348.4,26.71 L347.9,26.45 L347.4,26.18 L346.9,25.91 L346.4,26.33 L345.9,26.76 L345.4,27.18 L344.9,27.16 L344.4,27.16 L343.9,27.19 L343.4,27.09 L342.9,27 L342.4,26.92 L341.9,27.25 L341.4,27.55 L340.9,27.82 L340.4,28.03 L339.9,28.21 L339.4,28.39 L338.9,28.43 L338.4,28.5 L337.9,28.58 L337.4,28.23 L336.9,27.89 L336.4,27.56 L335.9,27.85 L335.4,28.15 L334.9,28.48 L334.4,28.35 L333.9,28.24 L333.4,28.16 L332.9,28.45 L332.4,28.79 L331.9,29.19 L331.4,29.35 L330.9,29.48 L330.4,29.57 L329.9,29.73 L329.4,29.81 L328.9,29.81 L328.4,30.43 L327.9,31.13 L327.4,31.9 L326.9,31.87 L326.4,31.83 L325.9,31.78 L325.4,31.94 L324.9,31.93 L324.4,31.77 L323.9,31.81 L323.4,31.87 L322.9,31.94 L322.4,31.37 L321.9,30.87 L321.4,30.46 L320.9,30.37 L320.4,30.27 L319.9,30.15 L319.4,30.11 L318.9,30.12 L318.4,30.19 L317.9,30.04 L317.4,30.02 L316.9,30.11 L316.4,30.75 L315.9,31.39 L315.4,32.02 L314.9,32.49 L314.4,32.87 L313.9,33.11 L313.4,33.2 L312.9,33.25 L312.4,33.26 L311.9,33.37 L311.4,33.39 L310.9,33.34 L310.4,33.01 L309.9,32.73 L309.4,32.47 L308.9,31.89 L308.4,31.3 L307.9,30.72 L307.4,30.94 L306.9,31.09 L306.4,31.22 L305.9,30.8 L305.4,30.53 L304.9,30.44 L304.4,30.65 L303.9,31 L303.4,31.48 L302.9,31.98 L302.4,32.54 L301.9,33.08 L301.4,33.72 L300.9,34.21 L300.4,34.53 L299.9,34.73 L299.4,34.8 L298.9,34.79 L298.4,34.49 L297.9,34.36 L297.4,34.42 L296.9,35.11 L296.4,35.73 L295.9,36.3 L295.4,36.57 L294.9,36.91 L294.4,37.41 L293.9,37.91 L293.4,38.69 L292.9,39.67 L292.4,41.04 L291.9,42.21 L291.4,43.08 L290.9,43.3 L290.4,43.23 L289.9,42.9 L289.4,42.66 L288.9,42.24 L288.4,41.69 L287.9,40.77 L287.4,39.68 L286.9,38.43 L286.4,37.31 L285.9,36.24 L285.4,35.28 L284.9,34.54 L284.4,33.99 L283.9,33.65 L283.4,33.42 L282.9,33.24 L282.4,33.07 L281.9,32.74 L281.4,32.47 L280.9,32.27 L280.4,32.03 L279.9,31.94 L279.4,31.97 L278.9,32.4 L278.4,32.72 L277.9,32.86 L277.4,32.67 L276.9,32.31 L276.4,31.84 L275.9,31.37 L275.4,31.04 L274.9,30.91 L274.4,30.97 L273.9,31.19 L273.4,31.48 L272.9,31.78 L272.4,32.01 L271.9,32.11 L271.4,32.12 L270.9,31.99 L270.4,31.78 L269.9,31.56 L269.4,31.32 L268.9,31.08 L268.4,30.73 L267.9,30.35 L267.4,29.95 L266.9,29.63 L266.4,29.39 L265.9,29.25 L265.4,29.23 L264.9,29.32 L264.4,29.5 L263.9,29.68 L263.4,29.78 L262.9,29.8 L262.4,29.78 L261.9,29.68 L261.4,29.55 L260.9,29.38 L260.4,29.29 L259.9,29.29 L259.4,29.4 L258.9,29.59 L258.4,29.82 L257.9,30.14 L257.4,30.46 L256.9,30.79 L256.4,31.05 L255.9,31.26 L255.4,31.44 L254.9,31.62 L254.4,31.81 L253.9,32.02 L253.4,32.28 L252.9,32.58 L252.4,32.89 L251.9,33.15 L251.4,33.37 L250.9,33.55 L250.4,33.7 L249.9,33.8 L249.4,33.86 L248.9,33.93 L248.4,34.04 L247.9,34.2 L247.4,34.43 L246.9,34.73 L246.4,35.12 L245.9,35.6 L245.4,36.15 L244.9,36.73 L244.4,37.32 L243.9,37.87 L243.4,38.31 L242.9,38.59 L242.4,38.7 L241.9,38.68 L241.4,38.56 L240.9,38.39 L240.4,38.25 L239.9,38.18 L239.4,38.25 L238.9,38.44 L238.4,38.74 L237.9,39.11 L237.4,39.48 L236.9,39.81 L236.4,40.16 L235.9,40.4 L235.4,40.52 L234.9,40.54 L234.4,40.48 L233.9,40.41 L233.4,40.41 L232.9,40.45 L232.4,40.65 L231.9,41 L231.4,41.42 L230.9,41.82 L230.4,42.13 L229.9,42.28 L229.4,42.24 L228.9,42.07 L228.4,41.8 L227.9,41.52 L227.4,41.29 L226.9,41.14 L226.4,41.11 L225.9,41.15 L225.4,41.25 L224.9,41.36 L224.4,41.49 L223.9,41.65 L223.4,41.83 L222.9,42.08 L222.4,42.39 L221.9,42.77 L221.4,43.21 L220.9,43.7 L220.4,44.21 L219.9,44.7 L219.4,45.14 L218.9,45.52 L218.4,45.83 L217.9,46.06 L217.4,46.24 L216.9,46.39 L216.4,46.51 L215.9,46.62 L215.4,46.74 L214.9,46.88 L214.4,47.07 L213.9,47.35 L213.4,47.71 L212.9,48.17 L212.4,48.71 L211.9,49.33 L211.4,49.98 L210.9,50.62 L210.4,51.24 L209.9,51.82 L209.4,52.34 L208.9,52.81 L208.4,53.24 L207.9,53.64 L207.4,54.02 L206.9,54.4 L206.4,54.76 L205.9,55.13 L205.4,55.5 L204.9,55.87 L204.4,56.27 L203.9,56.69 L203.4,57.14 L202.9,57.61 L202.4,58.08 L201.9,58.54 L201.4,58.95 L200.9,59.29 L200.4,59.57 L199.9,59.76 L199.4,59.89 L198.9,59.96 L198.4,60 L197.9,60.02 L197.4,60.04 L196.9,60.05 L196.4,60.06 L195.9,60.08 L195.4,60.09 L194.9,60.11 L194.4,60.13 L193.9,60.15 L193.4,60.17 L192.9,60.19 L192.4,60.21 L191.9,60.24 L191.4,60.28 L190.9,60.35 L190.4,60.48 L189.9,60.7 L189.4,60.98 L188.9,61.33 L188.4,61.73 L187.9,62.18 L187.4,62.65 L186.9,63.11 L186.4,63.53 L185.9,63.91 L185.4,64.27 L184.9,64.59 L184.4,64.89 L183.9,65.16 L183.4,65.41 L182.9,65.65 L182.4,65.88 L181.9,66.11 L181.4,66.34 L180.9,66.58 L180.4,66.83 L179.9,67.1 L179.4,67.39 L178.9,67.7 L178.4,68.03 L177.9,68.36 L177.4,68.7 L176.9,69.04 L176.4,69.37 L175.9,69.7 L175.4,70.01 L174.9,70.32 L174.4,70.6 L173.9,70.89 L173.4,71.18 L172.9,71.49 L172.4,71.83 L171.9,72.21 L171.4,72.65 L170.9,73.14 L170.4,73.69 L169.9,74.29 L169.4,74.93 L168.9,75.59 L168.4,76.27 L167.9,76.96 L167.4,77.64 L166.9,78.31 L166.4,78.98 L165.9,79.63 L165.4,80.27 L164.9,80.9 L164.4,81.52 L163.9,82.12 L163.4,82.71 L162.9,83.29 L162.4,83.83 L161.9,84.33 L161.4,84.77 L160.9,85.16 L160.4,85.49 L159.9,85.76 L159.4,85.98 L158.9,86.14 L158.4,86.28 L157.9,86.39 L157.4,86.48 L156.9,86.56 L156.4,86.62 L155.9,86.68 L155.4,86.74 L154.9,86.8 L154.4,86.87 L153.9,86.96 L153.4,87.06 L152.9,87.18 L152.4,87.33 L151.9,87.48 L151.4,87.66 L150.9,87.85 L150.4,88.06 L149.9,88.29 L149.4,88.53 L148.9,88.8 L148.4,89.09 L147.9,89.4 L147.4,89.73 L146.9,90.08 L146.4,90.44 L145.9,90.82 L145.4,91.21 L144.9,91.61 L144.4,92.03 L143.9,92.47 L143.4,92.92 L142.9,93.39 L142.4,93.87 L141.9,94.37 L141.4,94.87 L140.9,95.38 L140.4,95.89 L139.9,96.41 L139.4,96.92 L138.9,97.45 L138.4,97.97 L137.9,98.5 L137.4,99.04 L136.9,99.58 L136.4,100.14 L135.9,100.69 L135.4,101.26 L134.9,101.83 L134.4,102.4 L133.9,102.99 L133.4,103.58 L132.9,104.17 L132.4,104.78 L131.9,105.39 L131.4,106.02 L130.9,106.65 L130.4,107.3 L129.9,107.96 L129.4,108.63 L128.9,109.31 L128.4,110 L127.9,110.71 L127.4,111.42 L126.9,112.15 L126.4,112.89 L125.9,113.64 L125.4,114.41 L124.9,115.18 L124.4,115.97 L123.9,116.77 L123.4,117.58 L122.9,118.41 L122.4,119.25 L121.9,120.1 L121.4,120.96 L120.9,121.83 L120.4,122.71 L119.9,123.6 L119.4,124.5 L118.9,125.41 L118.4,126.33 L117.9,127.26 L117.4,128.21 L116.9,129.17 L116.4,130.14 L115.9,131.13 L115.4,132.13 L114.9,133.17 L114.4,134.22 L113.9,135.29 L113.4,136.37 L112.9,137.46 L112.4,138.54 L111.9,139.6 L111.4,140.65 L110.9,141.68 L110.4,142.68 L109.9,143.67 L109.4,144.64 L108.9,145.6 L108.4,146.55 L107.9,147.49 L107.4,148.43 L106.9,149.36 L106.4,150.28 L105.9,151.21 L105.4,152.13 L104.9,153.06 L104.4,153.99 L103.9,154.92 L103.4,155.86 L102.9,156.8 L102.4,157.75 L101.9,158.7 L101.4,159.67 L100.9,160.63 L100.4,161.6 L99.9,162.57 L99.4,163.55 L98.9,164.52 L98.4,165.5 L97.9,166.48 L97.4,167.46 L96.9,168.45 L96.4,169.43 L95.9,170.41 L95.4,171.39 L94.9,172.38 L94.4,173.36 L93.9,174.34 L93.4,175.32 L92.9,176.3 L92.4,177.29 L91.9,178.27 L91.4,179.25 L90.9,180.24 L90.4,181.22 L89.9,182.21 L89.4,183.2 L88.9,184.19 L88.4,185.18 L87.9,186.17 L87.4,187.16 L86.9,188.15 L86.4,189.13 L85.9,190.12 L85.4,191.1 L84.9,192.09 L84.4,193.07 L83.9,194.05 L83.4,195.03 L82.9,196 L82.4,196.97 L81.9,197.94 L81.4,198.91 L80.9,199.87 L80.4,200.83 L79.9,201.78 L79.4,202.74 L78.9,203.68 L78.4,204.63 L77.9,205.57 L77.4,206.52 L76.9,207.45 L76.4,208.39 L75.9,209.32 L75.4,210.26 L74.9,211.18 L74.4,212.11 L73.9,213.04 L73.4,213.96 L72.9,214.88 L72.4,215.79 L71.9,216.71 L71.4,217.62 L70.9,218.53 L70.4,219.44 L69.9,220.35 L69.4,221.25 L68.9,222.15 L68.4,223.05 L67.9,223.95 L67.4,224.85 L66.9,225.75 L66.4,226.65 L65.9,227.55 L65.4,228.45 L64.9,229.35 L64.4,230.25 L63.9,231.15 L63.4,232.05 L62.9,232.94 L62.4,233.84 L61.9,234.74 L61.4,235.64 L60.9,236.54 L60.4,237.44 L59.9,238.34 L59.4,239.24 L58.9,240.14 L58.4,241.04 L57.9,241.94 L57.4,242.84 L56.9,243.74 L56.4,244.64 L55.9,245.54 L55.4,246.44 L54.9,247.34 L54.4,248.24 L53.9,249.14 L53.4,250.04 L52.9,250.94 L52.4,251.83 L51.9,252.73 L51.4,253.63 L50.9,254.53 L50.4,255.43 L49.9,256.33 L49.4,257.23 L48.9,258.13 L48.4,259.03 L47.9,259.93 L47.4,260.83 L46.9,261.73 L46.4,262.5 L45.9,263.14 L45.4,263.66 Z" fill="#ff0000" fill-opacity="0.2"/>
<path d="M45.4,264.43 L45.9,263.53 L46.4,262.63 L46.9,261.73 L47.4,260.83 L47.9,259.93 L48.4,259.03 L48.9,258.13 L49.4,257.23 L49.9,256.33 L50.4,255.43 L50.9,254.53 L51.4,253.63 L51.9,252.73 L52.4,251.83 L52.9,250.94 L53.4,250.04 L53.9,249.14 L54.4,248.24 L54.9,247.34 L55.4,246.44 L55.9,245.54 L56.4,244.64 L56.9,243.74 L57.4,242.84 L57.9,241.94 L58.4,241.04 L58.9,240.14 L59.4,239.24 L59.9,238.34 L60.4,237.54 L60.9,236.76 L61.4,235.98 L61.9,235.18 L62.4,234.38 L62.9,233.57 L63.4,232.75 L63.9,231.92 L64.4,231.09 L64.9,230.25 L65.4,229.41 L65.9,228.55 L66.4,227.69 L66.9,226.82 L67.4,225.95 L67.9,225.07 L68.4,224.18 L68.9,223.29 L69.4,222.39 L69.9,221.48 L70.4,220.57 L70.9,219.63 L71.4,218.69 L71.9,217.72 L72.4,216.75 L72.9,215.77 L73.4,214.77 L73.9,213.77 L74.4,212.76 L74.9,211.75 L75.4,210.73 L75.9,209.72 L76.4,208.7 L76.9,207.68 L77.4,206.67 L77.9,205.66 L78.4,204.66 L78.9,203.66 L79.4,202.67 L79.9,201.69 L80.4,200.72 L80.9,199.74 L81.4,198.75 L81.9,197.75 L82.4,196.74 L82.9,195.74 L83.4,194.74 L83.9,193.73 L84.4,192.74 L84.9,191.75 L85.4,190.76 L85.9,189.79 L86.4,188.83 L86.9,187.89 L87.4,186.96 L87.9,186.05 L88.4,185.17 L88.9,184.31 L89.4,183.47 L89.9,182.66 L90.4,181.88 L90.9,181.12 L91.4,180.38 L91.9,179.66 L92.4,178.95 L92.9,178.27 L93.4,177.59 L93.9,176.93 L94.4,176.27 L94.9,175.62 L95.4,174.98 L95.9,174.34 L96.4,173.71 L96.9,173.07 L97.4,172.43 L97.9,171.79 L98.4,171.14 L98.9,170.48 L99.4,169.82 L99.9,169.14 L100.4,168.45 L100.9,167.77 L101.4,167.08 L101.9,166.4 L102.4,165.72 L102.9,165.03 L103.4,164.35 L103.9,163.66 L104.4,162.98 L104.9,162.29 L105.4,161.59 L105.9,160.9 L106.4,160.2 L106.9,159.49 L107.4,158.79 L107.9,158.07 L108.4,157.35 L108.9,156.62 L109.4,155.89 L109.9,155.15 L110.4,154.4 L110.9,153.64 L111.4,152.87 L111.9,152.1 L112.4,151.31 L112.9,150.52 L113.4,149.73 L113.9,148.93 L114.4,148.12 L114.9,147.31 L115.4,146.5 L115.9,145.68 L116.4,144.87 L116.9,144.05 L117.4,143.23 L117.9,142.41 L118.4,141.6 L118.9,140.78 L119.4,139.97 L119.9,139.16 L120.4,138.35 L120.9,137.53 L121.4,136.7 L121.9,135.86 L122.4,135.02 L122.9,134.17 L123.4,133.33 L123.9,132.49 L124.4,131.66 L124.9,130.84 L125.4,130.02 L125.9,129.22 L126.4,128.44 L126.9,127.68 L127.4,126.93 L127.9,126.21 L128.4,125.5 L128.9,124.79 L129.4,124.09 L129.9,123.39 L130.4,122.7 L130.9,122.01 L131.4,121.33 L131.9,120.66 L132.4,120 L132.9,119.35 L133.4,118.7 L133.9,118.07 L134.4,117.44 L134.9,116.83 L135.4,116.23 L135.9,115.64 L136.4,115.06 L136.9,114.5 L137.4,113.95 L137.9,113.42 L138.4,112.9 L138.9,112.4 L139.4,111.9 L139.9,111.41 L140.4,110.93 L140.9,110.45 L141.4,109.97 L141.9,109.5 L142.4,109.04 L142.9,108.58 L143.4,108.13 L143.9,107.69 L144.4,107.25 L144.9,106.82 L145.4,106.4 L145.9,105.98 L146.4,105.58 L146.9,105.18 L147.4,104.79 L147.9,104.41 L148.4,104.04 L148.9,103.67 L149.4,103.32 L149.9,102.97 L150.4,102.64 L150.9,102.31 L151.4,102 L151.9,101.69 L152.4,101.4 L152.9,101.12 L153.4,100.84 L153.9,100.57 L154.4,100.3 L154.9,100.04 L155.4,99.79 L155.9,99.54 L156.4,99.3 L156.9,99.07 L157.4,98.83 L157.9,98.61 L158.4,98.38 L158.9,98.16 L159.4,97.95 L159.9,97.74 L160.4,97.53 L160.9,97.32 L161.4,97.12 L161.9,96.92 L162.4,96.72 L162.9,96.53 L163.4,96.33 L163.9,96.14 L164.4,95.95 L164.9,95.76 L165.4,95.57 L165.9,95.38 L166.4,95.19 L166.9,95 L167.4,94.83 L167.9,94.65 L168.4,94.48 L168.9,94.32 L169.4,94.15 L169.9,93.99 L170.4,93.83 L170.9,93.67 L171.4,93.51 L171.9,93.35 L172.4,93.19 L172.9,93.03 L173.4,92.86 L173.9,92.69 L174.4,92.52 L174.9,92.34 L175.4,92.15 L175.9,91.96 L176.4,91.76 L176.9,91.56 L177.4,91.36 L177.9,91.15 L178.4,90.94 L178.9,90.72 L179.4,90.51 L179.9,90.3 L180.4,90.08 L180.9,89.87 L181.4,89.66 L181.9,89.46 L182.4,89.25 L182.9,89.06 L183.4,88.87 L183.9,88.68 L184.4,88.5 L184.9,88.33 L185.4,88.17 L185.9,88.01 L186.4,87.85 L186.9,87.69 L187.4,87.54 L187.9,87.39 L188.4,87.24 L188.9,87.09 L189.4,86.95 L189.9,86.81 L190.4,86.66 L190.9,86.53 L191.4,86.39 L191.9,86.26 L192.4,86.12 L192.9,85.99 L193.4,85.87 L193.9,85.74 L194.4,85.61 L194.9,85.49 L195.4,85.37 L195.9,85.25 L196.4,85.14 L196.9,85.02 L197.4,84.91 L197.9,84.8 L198.4,84.7 L198.9,84.6 L199.4,84.5 L199.9,84.41 L200.4,84.32 L200.9,84.22 L201.4,84.11 L201.9,84.03 L202.4,83.96 L202.9,83.85 L203.4,83.74 L203.9,83.76 L204.4,83.79 L204.9,83.66 L205.4,83.5 L205.9,83.3 L206.4,83.09 L206.9,83.11 L207.4,83.15 L207.9,82.98 L208.4,82.81 L208.9,82.88 L209.4,82.97 L209.9,82.6 L210.4,82.2 L210.9,81.92 L211.4,81.62 L211.9,81.68 L212.4,81.74 L212.9,81.51 L213.4,81.27 L213.9,81.06 L214.4,80.87 L214.9,80.45 L215.4,80.03 L215.9,80.22 L216.4,80.46 L216.9,80.54 L217.4,80.65 L217.9,80 L218.4,79.32 L218.9,79.77 L219.4,80.24 L219.9,79.87 L220.4,79.5 L220.9,79.99 L221.4,80.51 L221.9,80.1 L222.4,79.68 L222.9,79.5 L223.4,79.33 L223.9,79.56 L224.4,79.81 L224.9,79.65 L225.4,79.49 L225.9,79.19 L226.4,78.88 L226.9,79.16 L227.4,79.44 L227.9,79.1 L228.4,78.75 L228.9,78.37 L229.4,77.98 L229.9,78.96 L230.4,79.98 L230.9,79.28 L231.4,78.56 L231.9,78.44 L232.4,78.3 L232.9,78.53 L233.4,78.76 L233.9,78.13 L234.4,77.48 L234.9,77.49 L235.4,77.49 L235.9,77.72 L236.4,77.95 L236.9,77.9 L237.4,77.84 L237.9,78 L238.4,78.16 L238.9,78.5 L239.4,78.83 L239.9,78.22 L240.4,77.59 L240.9,77.9 L241.4,78.21 L241.9,78.21 L242.4,78.2 L242.9,77.49 L243.4,76.76 L243.9,77.21 L244.4,77.67 L244.9,77.12 L245.4,76.55 L245.9,77.3 L246.4,78.06 L246.9,77.71 L247.4,77.36 L247.9,77.06 L248.4,76.76 L248.9,76.04 L249.4,75.25 L249.9,75.61 L250.4,75.89 L250.9,75.06 L251.4,74.2 L251.9,74.46 L252.4,74.79 L252.9,74.1 L253.4,73.41 L253.9,72.77 L254.4,72.12 L254.9,72.65 L255.4,73.21 L255.9,72.84 L256.4,72.5 L256.9,71.64 L257.4,70.81 L257.9,71.57 L258.4,72.39 L258.9,71.64 L259.4,70.93 L259.9,70.98 L260.4,71.06 L260.9,71.39 L261.4,71.74 L261.9,71.41 L262.4,71.09 L262.9,71.39 L263.4,71.68 L263.9,71.96 L264.4,72.22 L264.9,73.23 L265.4,74.23 L265.9,74.29 L266.4,74.34 L266.9,73.42 L267.4,72.49 L267.9,73.59 L268.4,74.71 L268.9,73.84 L269.4,72.96 L269.9,73.28 L270.4,73.61 L270.9,74.02 L271.4,74.46 L271.9,74.27 L272.4,74.1 L272.9,75.54 L273.4,77.01 L273.9,75.93 L274.4,74.83 L274.9,74.17 L275.4,73.5 L275.9,75.23 L276.4,76.96 L276.9,76.09 L277.4,75.2 L277.9,75.42 L278.4,75.62 L278.9,74.05 L279.4,72.43 L279.9,75 L280.4,77.57 L280.9,77.45 L281.4,77.27 L281.9,77.13 L282.4,76.93 L282.9,76.83 L283.4,76.7 L283.9,76.89 L284.4,77.07 L284.9,75.62 L285.4,74.16 L285.9,74.52 L286.4,74.91 L286.9,73.52 L287.4,72.16 L287.9,72.25 L288.4,72.34 L288.9,73.15 L289.4,73.97 L289.9,73.36 L290.4,72.76 L290.9,71.41 L291.4,70.06 L291.9,71.11 L292.4,72.18 L292.9,71.65 L293.4,71.12 L293.9,70.51 L294.4,69.89 L294.9,70.62 L295.4,71.37 L295.9,70.6 L296.4,69.83 L296.9,68.84 L297.4,67.86 L297.9,68.1 L298.4,68.37 L298.9,70.49 L299.4,72.71 L299.9,70.42 L300.4,68.23 L300.9,69.92 L301.4,71.68 L301.9,72.44 L302.4,73.22 L302.9,73.69 L303.4,74.12 L303.9,73.01 L304.4,71.78 L304.9,72.58 L305.4,73.29 L305.9,73.62 L306.4,73.94 L306.9,74.4 L307.4,74.85 L307.9,73.6 L308.4,72.34 L308.9,71.81 L309.4,71.27 L309.9,72.92 L310.4,74.58 L310.9,74.57 L311.4,74.57 L311.9,73.89 L312.4,73.21 L312.9,72.35 L313.4,71.49 L313.9,72.33 L314.4,73.21 L314.9,73.03 L315.4,72.88 L315.9,73.63 L316.4,74.39 L316.9,72.78 L317.4,71.18 L317.9,72.48 L318.4,73.77 L318.9,73.65 L319.4,73.49 L319.9,72.73 L320.4,71.93 L320.9,73.05 L321.4,74.17 L321.9,74.02 L322.4,73.87 L322.9,73.5 L323.4,73.12 L323.9,73.81 L324.4,74.49 L324.9,72.96 L325.4,71.43 L325.9,72.58 L326.4,73.74 L326.9,74.15 L327.4,74.56 L327.9,74.44 L328.4,74.32 L328.9,74.99 L329.4,75.66 L329.9,73.74 L330.4,71.82 L330.9,71.56 L331.4,71.3 L331.9,72.78 L332.4,74.26 L332.9,74.44 L333.4,74.63 L333.9,76.04 L334.4,77.45 L334.9,76.18 L335.4,74.91 L335.9,73.65 L336.4,72.39 L336.9,73.81 L337.4,75.24 L337.9,73.84 L338.4,72.45 L338.9,71.91 L339.4,71.37 L339.9,74.83 L340.4,78.29 L340.9,76.37 L341.4,74.44 L341.9,74.77 L342.4,75.1 L342.9,74.97 L343.4,74.85 L343.9,75.9 L344.4,76.96 L344.9,75.67 L345.4,74.38 L345.9,75.17 L346.4,75.96 L346.9,74.07 L347.4,72.17 L347.9,71.86 L348.4,71.56 L348.9,73.94 L349.4,76.32 L349.9,76.37 L350.4,76.41 L350.9,75.59 L351.4,74.78 L351.9,74.54 L352.4,74.3 L352.9,74.25 L353.4,74.2 L353.9,73.48 L354.4,72.76 L354.9,74.65 L355.4,76.53 L355.9,75.79 L356.4,75.04 L356.9,74.92 L357.4,74.79 L357.9,74.68 L358.4,74.57 L358.9,75.14 L359.4,75.71 L359.9,75.25 L360.4,74.79 L360.9,75 L361.4,75.2 L361.9,73.59 L362.4,71.97 L362.9,73.39 L363.4,74.81 L363.9,76.23 L364.4,77.64 L364.9,75.36 L365.4,73.07 L365.9,73.4 L366.4,73.73 L366.9,74.6 L367.4,75.46 L367.9,75.52 L368.4,75.57 L368.9,75.29 L369.4,75.01 L369.9,73.12 L370.4,71.23 L370.9,73.02 L371.4,74.81 L371.9,73.39 L372.4,71.96 L372.9,72.27 L373.4,72.57 L373.9,73.73 L374.4,74.89 L374.9,74.18 L375.4,73.47 L375.9,74.4 L376.4,75.34 L376.9,77.31 L377.4,79.29 L377.9,77.29 L378.4,75.29 L378.9,75.24 L379.4,75.19 L379.9,73.83 L380.4,72.46 L380.9,72.67 L381.4,72.89 L381.9,72.53 L382.4,72.18 L382.9,72.63 L383.4,73.08 L383.9,72.61 L384.4,72.13 L384.9,72.5 L385.4,72.87 L385.9,73.25 L386.4,73.63 L386.9,72.96 L387.4,72.29 L387.9,71.94 L388.4,71.58 L388.9,71.63 L389.4,71.68 L389.9,73.22 L390.4,74.75 L390.9,74.42 L391.4,74.09 L391.9,74.9 L392.4,75.72 L392.9,75.74 L393.4,75.75 L393.9,74.58 L394.4,73.41 L394.9,74.27 L395.4,75.12 L395.9,73.34 L396.4,71.56 L396.9,74.7 L397.4,77.85 L397.9,76.93 L398.4,76.01 L398.9,74.82 L399.4,73.63 L399.9,72.83 L400.4,72.03 L400.9,73.33 L401.4,74.64 L401.9,72.73 L402.4,70.83 L402.9,71.75 L403.4,72.68 L403.9,73.97 L404.4,75.26 L404.9,74.69 L405.4,74.12 L405.9,73.64 L406.4,73.17 L406.9,74.38 L407.4,75.6 L407.9,73.92 L408.4,72.24 L408.9,73.36 L409.4,74.48 L409.9,73.82 L410.4,73.16 L410.9,72.86 L411.4,72.57 L411.9,73.67 L412.4,74.78 L412.9,73.55 L413.4,72.32 L413.9,74.77 L414.4,77.21 L414.9,75.11 L415.4,73.01 L415.9,75.19 L416.4,77.36 L416.9,74.76 L417.4,72.15 L417.9,73.59 L418.4,75.02 L418.9,73.5 L419.4,71.97 L419.9,71.85 L420.4,71.73 L420.9,73 L421.4,74.27 L421.9,74.71 L422.4,75.14 L422.9,73.5 L423.4,71.85 L423.9,73.92 L424.4,76 L424.9,74.33 L425.4,72.65 L425.9,73.44 L426.4,74.22 L426.9,74.43 L427.4,74.64 L427.9,74.82 L428.4,75 L428.9,72.98 L429.4,70.96 L429.9,73.85 L430.4,76.74 L430.9,75.84 L431.4,74.95 L431.9,74.12 L432.4,73.28 L432.9,72.77 L433.4,72.27 L433.9,71.7 L434.4,71.14 L434.4,118.4 L433.9,118.99 L433.4,119.58 L432.9,120.28 L432.4,120.99 L431.9,122.62 L431.4,124.26 L430.9,121.84 L430.4,119.42 L429.9,119.72 L429.4,120.03 L428.9,120.34 L428.4,120.64 L427.9,120.65 L427.4,120.65 L426.9,120.26 L426.4,119.87 L425.9,120.32 L425.4,120.77 L424.9,121.29 L424.4,121.8 L423.9,122.34 L423.4,122.88 L422.9,120.57 L422.4,118.26 L421.9,118.28 L421.4,118.31 L420.9,119.43 L420.4,120.56 L419.9,121.51 L419.4,122.46 L418.9,122.38 L418.4,122.31 L417.9,121.96 L417.4,121.61 L416.9,121.69 L416.4,121.77 L415.9,121.99 L415.4,122.2 L414.9,120.44 L414.4,118.67 L413.9,119.71 L413.4,120.75 L412.9,121.25 L412.4,121.75 L411.9,120.89 L411.4,120.02 L410.9,120.43 L410.4,120.83 L409.9,118.57 L409.4,116.31 L408.9,119.07 L408.4,121.82 L407.9,121 L407.4,120.18 L406.9,122 L406.4,123.82 L405.9,121.04 L405.4,118.27 L404.9,121.06 L404.4,123.85 L403.9,122.38 L403.4,120.9 L402.9,120.62 L402.4,120.34 L401.9,118.08 L401.4,115.83 L400.9,117.79 L400.4,119.76 L399.9,120.6 L399.4,121.44 L398.9,121.87 L398.4,122.29 L397.9,124.14 L397.4,126 L396.9,123.23 L396.4,120.47 L395.9,122.29 L395.4,124.11 L394.9,122.36 L394.4,120.62 L393.9,121.45 L393.4,122.28 L392.9,121.8 L392.4,121.32 L391.9,120.74 L391.4,120.16 L390.9,119.57 L390.4,118.98 L389.9,119.47 L389.4,119.96 L388.9,119.76 L388.4,119.55 L387.9,120.35 L387.4,121.16 L386.9,120.34 L386.4,119.53 L385.9,119.22 L385.4,118.91 L384.9,120.44 L384.4,121.98 L383.9,122.43 L383.4,122.88 L382.9,121.89 L382.4,120.9 L381.9,120.87 L381.4,120.84 L380.9,121.09 L380.4,121.34 L379.9,121.97 L379.4,122.59 L378.9,122.13 L378.4,121.67 L377.9,121.54 L377.4,121.4 L376.9,121.07 L376.4,120.73 L375.9,121.12 L375.4,121.51 L374.9,122.81 L374.4,124.11 L373.9,122.04 L373.4,119.97 L372.9,122.11 L372.4,124.25 L371.9,121.27 L371.4,118.28 L370.9,118.55 L370.4,118.82 L369.9,120.08 L369.4,121.34 L368.9,121.02 L368.4,120.71 L367.9,118.76 L367.4,116.82 L366.9,120.43 L366.4,124.04 L365.9,122.35 L365.4,120.67 L364.9,120.15 L364.4,119.63 L363.9,120.26 L363.4,120.89 L362.9,120.96 L362.4,121.02 L361.9,120.8 L361.4,120.57 L360.9,121.02 L360.4,121.46 L359.9,120.4 L359.4,119.34 L358.9,120.9 L358.4,122.46 L357.9,120.36 L357.4,118.26 L356.9,119.32 L356.4,120.37 L355.9,121.81 L355.4,123.25 L354.9,120.94 L354.4,118.62 L353.9,119.49 L353.4,120.36 L352.9,120.36 L352.4,120.36 L351.9,119.92 L351.4,119.48 L350.9,119.47 L350.4,119.47 L349.9,120.07 L349.4,120.68 L348.9,120.29 L348.4,119.89 L347.9,120.8 L347.4,121.71 L346.9,121.29 L346.4,120.87 L345.9,121.21 L345.4,121.55 L344.9,120.92 L344.4,120.29 L343.9,120.52 L343.4,120.75 L342.9,119.67 L342.4,118.59 L341.9,121.14 L341.4,123.69 L340.9,122.76 L340.4,121.83 L339.9,121.2 L339.4,120.57 L338.9,120.6 L338.4,120.64 L337.9,122.56 L337.4,124.48 L336.9,123.29 L336.4,122.09 L335.9,119.21 L335.4,116.32 L334.9,119.64 L334.4,122.95 L333.9,121.39 L333.4,119.83 L332.9,119.8 L332.4,119.78 L331.9,120.1 L331.4,120.43 L330.9,120.26 L330.4,120.09 L329.9,119.17 L329.4,118.23 L328.9,120.02 L328.4,121.79 L327.9,119.73 L327.4,117.65 L326.9,117.69 L326.4,117.72 L325.9,119.53 L325.4,121.35 L324.9,120.52 L324.4,119.7 L323.9,120.28 L323.4,120.86 L322.9,119.93 L322.4,119 L321.9,119.44 L321.4,119.88 L320.9,119.88 L320.4,119.89 L319.9,119.14 L319.4,118.42 L318.9,118 L318.4,117.63 L317.9,117.29 L317.4,116.99 L316.9,117.48 L316.4,118 L315.9,119.76 L315.4,121.54 L314.9,120.05 L314.4,118.57 L313.9,120.22 L313.4,121.86 L312.9,122.27 L312.4,122.68 L311.9,122.69 L311.4,122.68 L310.9,121.3 L310.4,119.9 L309.9,120.58 L309.4,121.22 L308.9,123.77 L308.4,126.24 L307.9,124.19 L307.4,122.11 L306.9,121.23 L306.4,120.33 L305.9,121.12 L305.4,121.89 L304.9,121.81 L304.4,121.72 L303.9,121.18 L303.4,120.65 L302.9,119.91 L302.4,119.19 L301.9,119.32 L301.4,119.47 L300.9,119.68 L300.4,119.87 L299.9,118.29 L299.4,116.71 L298.9,118.51 L298.4,120.29 L297.9,119.83 L297.4,119.38 L296.9,118.79 L296.4,118.23 L295.9,118.24 L295.4,118.29 L294.9,118.47 L294.4,118.7 L293.9,117.39 L293.4,116.13 L292.9,115.76 L292.4,115.43 L291.9,115.91 L291.4,116.4 L290.9,117.62 L290.4,118.83 L289.9,119.49 L289.4,120.12 L288.9,119.02 L288.4,117.9 L287.9,119.1 L287.4,120.24 L286.9,121.29 L286.4,122.32 L285.9,120.27 L285.4,118.22 L284.9,118.14 L284.4,118.04 L283.9,119.12 L283.4,120.18 L282.9,120.43 L282.4,120.69 L281.9,120.33 L281.4,119.98 L280.9,120.26 L280.4,120.55 L279.9,119.01 L279.4,117.49 L278.9,118.98 L278.4,120.46 L277.9,120.35 L277.4,120.25 L276.9,119.51 L276.4,118.78 L275.9,118.97 L275.4,119.16 L274.9,119.42 L274.4,119.68 L273.9,119.62 L273.4,119.57 L272.9,120.45 L272.4,121.33 L271.9,120.1 L271.4,118.89 L270.9,119.11 L270.4,119.32 L269.9,119.29 L269.4,119.26 L268.9,118.26 L268.4,117.27 L267.9,118.1 L267.4,118.92 L266.9,118.08 L266.4,117.25 L265.9,118.26 L265.4,119.25 L264.9,119.28 L264.4,119.31 L263.9,119.82 L263.4,120.34 L262.9,119.64 L262.4,118.96 L261.9,119.16 L261.4,119.36 L260.9,119.14 L260.4,118.93 L259.9,120.11 L259.4,121.29 L258.9,119.97 L258.4,118.67 L257.9,119.56 L257.4,120.46 L256.9,120.78 L256.4,121.14 L255.9,121.39 L255.4,121.66 L254.9,122.74 L254.4,123.78 L253.9,123.34 L253.4,122.85 L252.9,123.22 L252.4,123.47 L251.9,123.79 L251.4,123.94 L250.9,122.54 L250.4,121.08 L249.9,120.45 L249.4,119.83 L248.9,120.12 L248.4,120.48 L247.9,120.39 L247.4,120.47 L246.9,119.81 L246.4,119.18 L245.9,119.35 L245.4,119.53 L244.9,119.28 L244.4,119.05 L243.9,119.24 L243.4,119.43 L242.9,119.84 L242.4,120.24 L241.9,120.56 L241.4,120.87 L240.9,120.42 L240.4,119.98 L239.9,119.86 L239.4,119.74 L238.9,119.14 L238.4,118.55 L237.9,118.8 L237.4,119.05 L236.9,119.06 L236.4,119.08 L235.9,119.56 L235.4,120.03 L234.9,119.76 L234.4,119.56 L233.9,120.04 L233.4,120.58 L232.9,120.35 L232.4,120.18 L231.9,121.03 L231.4,121.9 L230.9,121.82 L230.4,121.76 L229.9,122.39 L229.4,122.98 L228.9,123.14 L228.4,123.28 L227.9,123.52 L227.4,123.71 L226.9,124.04 L226.4,124.28 L225.9,123.91 L225.4,123.51 L224.9,123.83 L224.4,124.09 L223.9,124.08 L223.4,124.03 L222.9,123.27 L222.4,122.51 L221.9,122.57 L221.4,122.61 L220.9,122.26 L220.4,121.93 L219.9,121.58 L219.4,121.27 L218.9,121.48 L218.4,121.72 L217.9,121.44 L217.4,121.21 L216.9,121.11 L216.4,121.04 L215.9,121.41 L215.4,121.78 L214.9,121.66 L214.4,121.57 L213.9,121.89 L213.4,122.2 L212.9,122.29 L212.4,122.39 L211.9,122.68 L211.4,122.96 L210.9,123.16 L210.4,123.35 L209.9,123.46 L209.4,123.54 L208.9,123.29 L208.4,123.06 L207.9,123.52 L207.4,123.93 L206.9,123.7 L206.4,123.5 L205.9,123.69 L205.4,123.86 L204.9,123.83 L204.4,123.82 L203.9,123.8 L203.4,123.8 L202.9,123.98 L202.4,124.12 L201.9,124.12 L201.4,124.13 L200.9,124.18 L200.4,124.24 L199.9,124.31 L199.4,124.37 L198.9,124.43 L198.4,124.49 L197.9,124.56 L197.4,124.62 L196.9,124.68 L196.4,124.75 L195.9,124.81 L195.4,124.88 L194.9,124.94 L194.4,125.01 L193.9,125.08 L193.4,125.15 L192.9,125.22 L192.4,125.29 L191.9,125.37 L191.4,125.44 L190.9,125.52 L190.4,125.59 L189.9,125.67 L189.4,125.75 L188.9,125.83 L188.4,125.91 L187.9,125.99 L187.4,126.08 L186.9,126.16 L186.4,126.25 L185.9,126.34 L185.4,126.43 L184.9,126.52 L184.4,126.61 L183.9,126.71 L183.4,126.82 L182.9,126.92 L182.4,127.03 L181.9,127.14 L181.4,127.26 L180.9,127.38 L180.4,127.5 L179.9,127.62 L179.4,127.75 L178.9,127.87 L178.4,128 L177.9,128.13 L177.4,128.26 L176.9,128.39 L176.4,128.52 L175.9,128.65 L175.4,128.77 L174.9,128.9 L174.4,129.03 L173.9,129.16 L173.4,129.28 L172.9,129.4 L172.4,129.52 L171.9,129.64 L171.4,129.76 L170.9,129.88 L170.4,130 L169.9,130.11 L169.4,130.23 L168.9,130.34 L168.4,130.46 L167.9,130.57 L167.4,130.69 L166.9,130.81 L166.4,130.92 L165.9,131.04 L165.4,131.16 L164.9,131.27 L164.4,131.39 L163.9,131.51 L163.4,131.63 L162.9,131.76 L162.4,131.88 L161.9,132.01 L161.4,132.13 L160.9,132.26 L160.4,132.39 L159.9,132.53 L159.4,132.66 L158.9,132.79 L158.4,132.93 L157.9,133.06 L157.4,133.2 L156.9,133.34 L156.4,133.48 L155.9,133.62 L155.4,133.76 L154.9,133.91 L154.4,134.05 L153.9,134.2 L153.4,134.36 L152.9,134.51 L152.4,134.67 L151.9,134.84 L151.4,135.01 L150.9,135.18 L150.4,135.36 L149.9,135.54 L149.4,135.72 L148.9,135.92 L148.4,136.12 L147.9,136.32 L147.4,136.53 L146.9,136.75 L146.4,136.97 L145.9,137.2 L145.4,137.43 L144.9,137.66 L144.4,137.9 L143.9,138.14 L143.4,138.39 L142.9,138.64 L142.4,138.89 L141.9,139.15 L141.4,139.41 L140.9,139.67 L140.4,139.93 L139.9,140.2 L139.4,140.47 L138.9,140.74 L138.4,141.01 L137.9,141.28 L137.4,141.55 L136.9,141.83 L136.4,142.11 L135.9,142.39 L135.4,142.68 L134.9,142.97 L134.4,143.26 L133.9,143.55 L133.4,143.85 L132.9,144.15 L132.4,144.46 L131.9,144.77 L131.4,145.08 L130.9,145.4 L130.4,145.72 L129.9,146.05 L129.4,146.38 L128.9,146.72 L128.4,147.06 L127.9,147.4 L127.4,147.75 L126.9,148.1 L126.4,148.46 L125.9,148.83 L125.4,149.2 L124.9,149.58 L124.4,149.96 L123.9,150.35 L123.4,150.75 L122.9,151.16 L122.4,151.58 L121.9,152 L121.4,152.43 L120.9,152.87 L120.4,153.32 L119.9,153.77 L119.4,154.23 L118.9,154.69 L118.4,155.16 L117.9,155.63 L117.4,156.11 L116.9,156.59 L116.4,157.08 L115.9,157.57 L115.4,158.07 L114.9,158.57 L114.4,159.07 L113.9,159.57 L113.4,160.08 L112.9,160.59 L112.4,161.1 L111.9,161.63 L111.4,162.17 L110.9,162.73 L110.4,163.29 L109.9,163.87 L109.4,164.45 L108.9,165.04 L108.4,165.63 L107.9,166.22 L107.4,166.81 L106.9,167.39 L106.4,167.96 L105.9,168.52 L105.4,169.07 L104.9,169.61 L104.4,170.11 L103.9,170.6 L103.4,171.07 L102.9,171.53 L102.4,172 L101.9,172.47 L101.4,172.96 L100.9,173.48 L100.4,174.03 L99.9,174.62 L99.4,175.26 L98.9,175.93 L98.4,176.64 L97.9,177.39 L97.4,178.16 L96.9,178.97 L96.4,179.79 L95.9,180.64 L95.4,181.51 L94.9,182.4 L94.4,183.3 L93.9,184.21 L93.4,185.12 L92.9,186.05 L92.4,186.97 L91.9,187.9 L91.4,188.82 L90.9,189.74 L90.4,190.64 L89.9,191.54 L89.4,192.42 L88.9,193.29 L88.4,194.13 L87.9,194.95 L87.4,195.76 L86.9,196.57 L86.4,197.37 L85.9,198.17 L85.4,198.96 L84.9,199.75 L84.4,200.54 L83.9,201.32 L83.4,202.1 L82.9,202.88 L82.4,203.66 L81.9,204.43 L81.4,205.21 L80.9,205.98 L80.4,206.76 L79.9,207.53 L79.4,208.3 L78.9,209.08 L78.4,209.85 L77.9,210.63 L77.4,211.41 L76.9,212.19 L76.4,212.97 L75.9,213.76 L75.4,214.54 L74.9,215.34 L74.4,216.13 L73.9,216.92 L73.4,217.71 L72.9,218.51 L72.4,219.3 L71.9,220.1 L71.4,220.89 L70.9,221.69 L70.4,222.48 L69.9,223.28 L69.4,224.08 L68.9,224.88 L68.4,225.68 L67.9,226.49 L67.4,227.29 L66.9,228.09 L66.4,228.9 L65.9,229.71 L65.4,230.52 L64.9,231.33 L64.4,232.14 L63.9,232.96 L63.4,233.77 L62.9,234.59 L62.4,235.41 L61.9,236.22 L61.4,237.05 L60.9,237.87 L60.4,238.69 L59.9,239.51 L59.4,240.34 L58.9,241.17 L58.4,241.99 L57.9,242.82 L57.4,243.65 L56.9,244.49 L56.4,245.32 L55.9,246.15 L55.4,246.99 L54.9,247.34 L54.4,248.24 L53.9,249.14 L53.4,250.04 L52.9,250.94 L52.4,251.83 L51.9,252.73 L51.4,253.63 L50.9,254.53 L50.4,255.43 L49.9,256.33 L49.4,257.23 L48.9,258.13 L48.4,259.03 L47.9,259.93 L47.4,260.83 L46.9,261.73 L46.4,262.63 L45.9,263.53 L45.4,264.43 Z" fill="#008000" fill-opacity="0.2"/>
<path d="M45.4,264.43 L45.9,263.53 L46.4,262.63 L46.9,261.73 L47.4,260.83 L47.9,259.93 L48.4,259.03 L48.9,258.13 L49.4,257.23 L49.9,256.33 L50.4,255.43 L50.9,254.53 L51.4,253.63 L51.9,252.73 L52.4,251.83 L52.9,250.94 L53.4,250.04 L53.9,249.14 L54.4,248.24 L54.9,247.34 L55.4,246.44 L55.9,245.54 L56.4,244.64 L56.9,243.74 L57.4,242.84 L57.9,241.94 L58.4,241.04 L58.9,240.14 L59.4,239.24 L59.9,238.34 L60.4,237.44 L60.9,236.54 L61.4,235.64 L61.9,234.74 L62.4,233.84 L62.9,232.94 L63.4,232.05 L63.9,231.15 L64.4,230.25 L64.9,229.35 L65.4,228.45 L65.9,227.55 L66.4,226.65 L66.9,225.75 L67.4,224.85 L67.9,223.95 L68.4,223.05 L68.9,222.15 L69.4,221.25 L69.9,220.35 L70.4,219.45 L70.9,218.54 L71.4,217.63 L71.9,216.71 L72.4,215.8 L72.9,214.88 L73.4,213.96 L73.9,213.04 L74.4,212.12 L74.9,211.19 L75.4,210.26 L75.9,209.33 L76.4,208.39 L76.9,207.46 L77.4,206.52 L77.9,205.58 L78.4,204.64 L78.9,203.69 L79.4,202.74 L79.9,201.79 L80.4,200.84 L80.9,199.88 L81.4,198.92 L81.9,197.95 L82.4,196.98 L82.9,196.01 L83.4,195.03 L83.9,194.05 L84.4,193.07 L84.9,192.09 L85.4,191.11 L85.9,190.12 L86.4,189.13 L86.9,188.15 L87.4,187.16 L87.9,186.17 L88.4,185.18 L88.9,184.19 L89.4,183.2 L89.9,182.21 L90.4,181.22 L90.9,180.24 L91.4,179.25 L91.9,178.27 L92.4,177.28 L92.9,176.3 L93.4,175.32 L93.9,174.34 L94.4,173.36 L94.9,172.38 L95.4,171.39 L95.9,170.41 L96.4,169.43 L96.9,168.44 L97.4,167.46 L97.9,166.48 L98.4,165.5 L98.9,164.52 L99.4,163.54 L99.9,162.57 L100.4,161.6 L100.9,160.63 L101.4,159.66 L101.9,158.69 L102.4,157.73 L102.9,156.78 L103.4,155.84 L103.9,154.91 L104.4,153.98 L104.9,153.05 L105.4,152.13 L105.9,151.21 L106.4,150.29 L106.9,149.36 L107.4,148.44 L107.9,147.5 L108.4,146.56 L108.9,145.62 L109.4,144.66 L109.9,143.69 L110.4,142.71 L110.9,141.71 L111.4,140.7 L111.9,139.67 L112.4,138.58 L112.9,137.48 L113.4,136.36 L113.9,135.25 L114.4,134.16 L114.9,133.1 L115.4,132.09 L115.9,131.09 L116.4,130.11 L116.9,129.14 L117.4,128.18 L117.9,127.24 L118.4,126.31 L118.9,125.39 L119.4,124.48 L119.9,123.58 L120.4,122.69 L120.9,121.81 L121.4,120.94 L121.9,120.07 L122.4,119.22 L122.9,118.38 L123.4,117.56 L123.9,116.74 L124.4,115.94 L124.9,115.16 L125.4,114.38 L125.9,113.62 L126.4,112.87 L126.9,112.13 L127.4,111.4 L127.9,110.68 L128.4,109.98 L128.9,109.28 L129.4,108.6 L129.9,107.93 L130.4,107.28 L130.9,106.63 L131.4,106 L131.9,105.38 L132.4,104.76 L132.9,104.16 L133.4,103.56 L133.9,102.97 L134.4,102.39 L134.9,101.81 L135.4,101.24 L135.9,100.68 L136.4,100.12 L136.9,99.57 L137.4,99.03 L137.9,98.49 L138.4,97.96 L138.9,97.43 L139.4,96.91 L139.9,96.4 L140.4,95.89 L140.9,95.38 L141.4,94.86 L141.9,94.36 L142.4,93.85 L142.9,93.36 L143.4,92.88 L143.9,92.43 L144.4,91.99 L144.9,91.58 L145.4,91.19 L145.9,90.8 L146.4,90.42 L146.9,90.05 L147.4,89.7 L147.9,89.36 L148.4,89.04 L148.9,88.75 L149.4,88.48 L149.9,88.24 L150.4,88.03 L150.9,87.83 L151.4,87.63 L151.9,87.45 L152.4,87.29 L152.9,87.14 L153.4,87.02 L153.9,86.92 L154.4,86.84 L154.9,86.78 L155.4,86.73 L155.9,86.69 L156.4,86.64 L156.9,86.59 L157.4,86.52 L157.9,86.43 L158.4,86.32 L158.9,86.19 L159.4,86.04 L159.9,85.86 L160.4,85.65 L160.9,85.36 L161.4,84.94 L161.9,84.43 L162.4,83.87 L162.9,83.31 L163.4,82.76 L163.9,82.17 L164.4,81.55 L164.9,80.92 L165.4,80.28 L165.9,79.64 L166.4,79.01 L166.9,78.36 L167.4,77.68 L167.9,76.97 L168.4,76.27 L168.9,75.56 L169.4,74.87 L169.9,74.21 L170.4,73.59 L170.9,73.02 L171.4,72.51 L171.9,72.08 L172.4,71.72 L172.9,71.42 L173.4,71.15 L173.9,70.89 L174.4,70.64 L174.9,70.36 L175.4,70.05 L175.9,69.73 L176.4,69.39 L176.9,69.04 L177.4,68.7 L177.9,68.35 L178.4,68.01 L178.9,67.68 L179.4,67.36 L179.9,67.06 L180.4,66.78 L180.9,66.53 L181.4,66.29 L181.9,66.06 L182.4,65.83 L182.9,65.61 L183.4,65.37 L183.9,65.13 L184.4,64.86 L184.9,64.56 L185.4,64.23 L185.9,63.85 L186.4,63.44 L186.9,63.02 L187.4,62.59 L187.9,62.11 L188.4,61.54 L188.9,60.97 L189.4,60.5 L189.9,60.22 L190.4,60.14 L190.9,60.08 L191.4,60.03 L191.9,59.98 L192.4,59.95 L192.9,59.92 L193.4,59.89 L193.9,59.86 L194.4,59.84 L194.9,59.81 L195.4,59.77 L195.9,59.75 L196.4,59.73 L196.9,59.71 L197.4,59.68 L197.9,59.66 L198.4,59.64 L198.9,59.6 L199.4,59.56 L199.9,59.51 L200.4,59.39 L200.9,59.1 L201.4,58.69 L201.9,58.18 L202.4,57.64 L202.9,57.08 L203.4,56.57 L203.9,56.13 L204.4,55.72 L204.9,55.34 L205.4,54.96 L205.9,54.59 L206.4,54.23 L206.9,53.86 L207.4,53.48 L207.9,53.1 L208.4,52.7 L208.9,52.27 L209.4,51.83 L209.9,51.35 L210.4,50.8 L210.9,50.12 L211.4,49.37 L211.9,48.6 L212.4,47.87 L212.9,47.23 L213.4,46.73 L213.9,46.43 L214.4,46.23 L214.9,46.09 L215.4,45.99 L215.9,45.89 L216.4,45.79 L216.9,45.67 L217.4,45.53 L217.9,45.36 L218.4,45.16 L218.9,44.92 L219.4,44.56 L219.9,44.05 L220.4,43.46 L220.9,42.81 L221.4,42.18 L221.9,41.65 L222.4,41.3 L222.9,41.09 L223.4,40.89 L223.9,40.71 L224.4,40.54 L224.9,40.4 L225.4,40.27 L225.9,40.16 L226.4,40.08 L226.9,40.02 L227.4,40 L227.9,40.14 L228.4,40.59 L228.9,41.18 L229.4,41.71 L229.9,41.99 L230.4,41.81 L230.9,41.17 L231.4,40.31 L231.9,39.48 L232.4,38.91 L232.9,38.82 L233.4,39 L233.9,39.31 L234.4,39.66 L234.9,39.95 L235.4,39.4 L235.9,39.36 L236.4,39.15 L236.9,38.81 L237.4,38.37 L237.9,37.9 L238.4,37.44 L238.9,37.02 L239.4,36.68 L239.9,36.52 L240.4,36.61 L240.9,36.95 L241.4,37.4 L241.9,37.81 L242.4,37.93 L242.9,37.75 L243.4,37.28 L243.9,36.73 L244.4,36.07 L244.9,35.36 L245.4,34.65 L245.9,34.03 L246.4,33.54 L246.9,33.12 L247.4,32.82 L247.9,32.62 L248.4,32.52 L248.9,32.44 L249.4,32.37 L249.9,32.34 L250.4,32.3 L250.9,32.25 L251.4,32.06 L251.9,31.75 L252.4,31.33 L252.9,30.97 L253.4,30.6 L253.9,30.28 L254.4,30.1 L254.9,30.02 L255.4,30.02 L255.9,29.79 L256.4,29.53 L256.9,29.25 L257.4,28.87 L257.9,28.47 L258.4,28.07 L258.9,27.84 L259.4,27.64 L259.9,27.46 L260.4,27.34 L260.9,27.3 L261.4,27.38 L261.9,27.67 L262.4,28.05 L262.9,28.43 L263.4,28.38 L263.9,28.09 L264.4,27.59 L264.9,27.19 L265.4,26.89 L265.9,26.8 L266.4,27.11 L266.9,27.62 L267.4,28.19 L267.9,28.58 L268.4,28.91 L268.9,29.17 L269.4,29.28 L269.9,29.41 L270.4,29.69 L270.9,30.14 L271.4,30.54 L271.9,30.74 L272.4,30.67 L272.9,30.19 L273.4,29.38 L273.9,28.69 L274.4,28.24 L274.9,28.18 L275.4,28.27 L275.9,28.72 L276.4,29.32 L276.9,30.4 L277.4,31.21 L277.9,31.67 L278.4,31.22 L278.9,30.54 L279.4,29.82 L279.9,29.56 L280.4,29.45 L280.9,29.51 L281.4,29.75 L281.9,30.06 L282.4,30.41 L282.9,30.51 L283.4,30.69 L283.9,30.95 L284.4,31.11 L284.9,31.5 L285.4,32.14 L285.9,33.65 L286.4,35.24 L286.9,36.8 L287.4,37.94 L287.9,38.88 L288.4,39.66 L288.9,40.05 L289.4,40.45 L289.9,40.85 L290.4,41.44 L290.9,41.68 L291.4,41.36 L291.9,40.65 L292.4,39.29 L292.9,37.54 L293.4,35.59 L293.9,34.07 L294.4,32.98 L294.9,33.3 L295.4,33.97 L295.9,34.53 L296.4,33.59 L296.9,32.48 L297.4,31.32 L297.9,31.19 L298.4,31.22 L298.9,31.45 L299.4,31.73 L299.9,32.03 L300.4,32.09 L300.9,31.71 L301.4,31.05 L301.9,30.2 L302.4,29.33 L302.9,28.46 L303.4,27.71 L303.9,27.07 L304.4,26.58 L304.9,26.24 L305.4,26 L305.9,25.95 L306.4,26.08 L306.9,26.63 L307.4,27.19 L307.9,27.71 L308.4,27.34 L308.9,26.92 L309.4,26.5 L309.9,27.03 L310.4,27.55 L310.9,28.02 L311.4,27.92 L311.9,27.72 L312.4,27.62 L312.9,27.77 L313.4,27.82 L313.9,27.75 L314.4,27.44 L314.9,27.05 L315.4,26.61 L315.9,25.93 L316.4,25.23 L316.9,24.55 L317.4,24.12 L317.9,23.74 L318.4,23.43 L318.9,23.4 L319.4,23.47 L319.9,23.67 L320.4,23.64 L320.9,23.64 L321.4,23.68 L321.9,23.65 L322.4,23.63 L322.9,23.63 L323.4,24.19 L323.9,24.74 L324.4,25.27 L324.9,25.43 L325.4,25.56 L325.9,25.66 L326.4,25.15 L326.9,24.59 L327.4,23.98 L327.9,24.09 L328.4,24.14 L328.9,24.15 L329.4,24.2 L329.9,24.21 L330.4,24.23 L330.9,23.71 L331.4,23.22 L331.9,22.74 L332.4,22.44 L332.9,22.19 L333.4,21.99 L333.9,21.83 L334.4,21.68 L334.9,21.53 L335.4,21.4 L335.9,21.28 L336.4,21.15 L336.9,21.12 L337.4,21.09 L337.9,21.07 L338.4,20.96 L338.9,20.85 L339.4,20.75 L339.9,20.85 L340.4,20.96 L340.9,21.08 L341.4,20.88 L341.9,20.68 L342.4,20.48 L342.9,20.43 L343.4,20.38 L343.9,20.33 L344.4,20.18 L344.9,20.04 L345.4,19.9 L345.9,20 L346.4,20.1 L346.9,20.2 L347.4,20.04 L347.9,19.89 L348.4,19.74 L348.9,19.78 L349.4,19.82 L349.9,19.86 L350.4,19.96 L350.9,20.06 L351.4,20.17 L351.9,20.04 L352.4,19.91 L352.9,19.78 L353.4,19.76 L353.9,19.73 L354.4,19.71 L354.9,19.66 L355.4,19.61 L355.9,19.56 L356.4,19.49 L356.9,19.43 L357.4,19.38 L357.9,19.34 L358.4,19.3 L358.9,19.26 L359.4,19.24 L359.9,19.21 L360.4,19.19 L360.9,19.32 L361.4,19.44 L361.9,19.57 L362.4,19.35 L362.9,19.13 L363.4,18.92 L363.9,19.2 L364.4,19.49 L364.9,19.77 L365.4,19.62 L365.9,19.46 L366.4,19.31 L366.9,19.22 L367.4,19.13 L367.9,19.04 L368.4,19.07 L368.9,19.1 L369.4,19.13 L369.9,19.11 L370.4,19.09 L370.9,19.07 L371.4,19.16 L371.9,19.26 L372.4,19.35 L372.9,19.26 L373.4,19.16 L373.9,19.06 L374.4,19.27 L374.9,19.48 L375.4,19.68 L375.9,19.47 L376.4,19.25 L376.9,19.04 L377.4,18.88 L377.9,18.71 L378.4,18.55 L378.9,18.72 L379.4,18.89 L379.9,19.06 L380.4,18.92 L380.9,18.78 L381.4,18.64 L381.9,18.86 L382.4,19.07 L382.9,19.29 L383.4,19.41 L383.9,19.52 L384.4,19.64 L384.9,19.6 L385.4,19.55 L385.9,19.51 L386.4,19.3 L386.9,19.08 L387.4,18.87 L387.9,18.94 L388.4,19 L388.9,19.06 L389.4,19.33 L389.9,19.59 L390.4,19.86 L390.9,19.7 L391.4,19.55 L391.9,19.4 L392.4,19.37 L392.9,19.33 L393.4,19.3 L393.9,19.41 L394.4,19.52 L394.9,19.62 L395.4,19.77 L395.9,19.91 L396.4,20.05 L396.9,19.93 L397.4,19.81 L397.9,19.69 L398.4,19.58 L398.9,19.46 L399.4,19.34 L399.9,19.36 L400.4,19.38 L400.9,19.41 L401.4,19.43 L401.9,19.46 L402.4,19.49 L402.9,19.37 L403.4,19.25 L403.9,19.14 L404.4,19.1 L404.9,19.06 L405.4,19.02 L405.9,19.14 L406.4,19.25 L406.9,19.37 L407.4,19.28 L407.9,19.19 L408.4,19.1 L408.9,19.2 L409.4,19.29 L409.9,19.38 L410.4,19.41 L410.9,19.43 L411.4,19.46 L411.9,19.68 L412.4,19.9 L412.9,20.12 L413.4,19.84 L413.9,19.55 L414.4,19.26 L414.9,19.35 L415.4,19.43 L415.9,19.51 L416.4,19.52 L416.9,19.53 L417.4,19.54 L417.9,19.61 L418.4,19.68 L418.9,19.75 L419.4,19.82 L419.9,19.89 L420.4,19.96 L420.9,19.84 L421.4,19.72 L421.9,19.6 L422.4,19.58 L422.9,19.57 L423.4,19.56 L423.9,19.5 L424.4,19.45 L424.9,19.4 L425.4,19.48 L425.9,19.56 L426.4,19.64 L426.9,19.79 L427.4,19.93 L427.9,20.08 L428.4,20.05 L428.9,20.03 L429.4,20.01 L429.9,19.94 L430.4,19.86 L430.9,19.79 L431.4,19.87 L431.9,19.94 L432.4,20.01 L432.9,20.07 L433.4,20.12 L433.9,20.17 L434.4,20.23" fill="none" stroke="#ff0000" stroke-width="1.1" stroke-linejoin="round"/>
<path d="M45.4,264.43 L45.9,263.54 L46.4,262.64 L46.9,261.75 L47.4,260.86 L47.9,259.96 L48.4,259.07 L48.9,258.17 L49.4,257.28 L49.9,256.39 L50.4,255.49 L50.9,254.6 L51.4,253.7 L51.9,252.81 L52.4,251.92 L52.9,251.02 L53.4,250.13 L53.9,249.24 L54.4,248.34 L54.9,247.45 L55.4,246.55 L55.9,245.66 L56.4,244.77 L56.9,243.87 L57.4,242.98 L57.9,242.08 L58.4,241.19 L58.9,240.3 L59.4,239.4 L59.9,238.51 L60.4,237.61 L60.9,236.72 L61.4,235.83 L61.9,234.93 L62.4,234.04 L62.9,233.14 L63.4,232.25 L63.9,231.36 L64.4,230.46 L64.9,229.57 L65.4,228.67 L65.9,227.78 L66.4,226.89 L66.9,225.99 L67.4,225.1 L67.9,224.2 L68.4,223.31 L68.9,222.42 L69.4,221.52 L69.9,220.63 L70.4,219.73 L70.9,218.83 L71.4,217.92 L71.9,217.01 L72.4,216.1 L72.9,215.19 L73.4,214.28 L73.9,213.36 L74.4,212.44 L74.9,211.52 L75.4,210.6 L75.9,209.67 L76.4,208.74 L76.9,207.81 L77.4,206.88 L77.9,205.94 L78.4,205.01 L78.9,204.07 L79.4,203.12 L79.9,202.18 L80.4,201.23 L80.9,200.28 L81.4,199.32 L81.9,198.36 L82.4,197.4 L82.9,196.43 L83.4,195.46 L83.9,194.49 L84.4,193.51 L84.9,192.54 L85.4,191.56 L85.9,190.58 L86.4,189.59 L86.9,188.61 L87.4,187.63 L87.9,186.65 L88.4,185.66 L88.9,184.68 L89.4,183.69 L89.9,182.71 L90.4,181.73 L90.9,180.75 L91.4,179.77 L91.9,178.79 L92.4,177.82 L92.9,176.84 L93.4,175.87 L93.9,174.89 L94.4,173.92 L94.9,172.94 L95.4,171.97 L95.9,170.99 L96.4,170.01 L96.9,169.04 L97.4,168.06 L97.9,167.09 L98.4,166.11 L98.9,165.14 L99.4,164.17 L99.9,163.2 L100.4,162.23 L100.9,161.27 L101.4,160.31 L101.9,159.35 L102.4,158.4 L102.9,157.46 L103.4,156.52 L103.9,155.59 L104.4,154.67 L104.9,153.75 L105.4,152.84 L105.9,151.92 L106.4,151.01 L106.9,150.09 L107.4,149.17 L107.9,148.24 L108.4,147.31 L108.9,146.37 L109.4,145.42 L109.9,144.46 L110.4,143.48 L110.9,142.49 L111.4,141.49 L111.9,140.46 L112.4,139.38 L112.9,138.28 L113.4,137.17 L113.9,136.07 L114.4,134.98 L114.9,133.94 L115.4,132.93 L115.9,131.94 L116.4,130.96 L116.9,130 L117.4,129.05 L117.9,128.11 L118.4,127.19 L118.9,126.27 L119.4,125.37 L119.9,124.48 L120.4,123.59 L120.9,122.71 L121.4,121.84 L121.9,120.97 L122.4,120.12 L122.9,119.28 L123.4,118.46 L123.9,117.64 L124.4,116.84 L124.9,116.06 L125.4,115.28 L125.9,114.52 L126.4,113.77 L126.9,113.03 L127.4,112.3 L127.9,111.58 L128.4,110.88 L128.9,110.18 L129.4,109.5 L129.9,108.83 L130.4,108.18 L130.9,107.53 L131.4,106.9 L131.9,106.28 L132.4,105.66 L132.9,105.06 L133.4,104.46 L133.9,103.87 L134.4,103.29 L134.9,102.71 L135.4,102.14 L135.9,101.58 L136.4,101.02 L136.9,100.47 L137.4,99.93 L137.9,99.39 L138.4,98.86 L138.9,98.33 L139.4,97.81 L139.9,97.3 L140.4,96.79 L140.9,96.28 L141.4,95.76 L141.9,95.26 L142.4,94.75 L142.9,94.26 L143.4,93.78 L143.9,93.33 L144.4,92.89 L144.9,92.48 L145.4,92.09 L145.9,91.7 L146.4,91.32 L146.9,90.95 L147.4,90.6 L147.9,90.26 L148.4,89.94 L148.9,89.65 L149.4,89.38 L149.9,89.14 L150.4,88.93 L150.9,88.73 L151.4,88.53 L151.9,88.35 L152.4,88.19 L152.9,88.04 L153.4,87.92 L153.9,87.82 L154.4,87.74 L154.9,87.68 L155.4,87.63 L155.9,87.59 L156.4,87.54 L156.9,87.49 L157.4,87.42 L157.9,87.33 L158.4,87.22 L158.9,87.09 L159.4,86.94 L159.9,86.76 L160.4,86.55 L160.9,86.26 L161.4,85.84 L161.9,85.33 L162.4,84.77 L162.9,84.21 L163.4,83.66 L163.9,83.07 L164.4,82.45 L164.9,81.82 L165.4,81.14 L165.9,80.46 L166.4,79.79 L166.9,79.1 L167.4,78.37 L167.9,77.63 L168.4,76.87 L168.9,76.13 L169.4,75.39 L169.9,74.69 L170.4,74.03 L170.9,73.41 L171.4,72.86 L171.9,72.39 L172.4,71.79 L172.9,71.51 L173.4,71.23 L173.9,70.95 L174.4,70.66 L174.9,70.36 L175.4,70.05 L175.9,69.73 L176.4,69.4 L176.9,69.06 L177.4,68.71 L177.9,68.37 L178.4,68.03 L178.9,67.69 L179.4,67.37 L179.9,67.06 L180.4,66.77 L180.9,66.49 L181.4,66.23 L181.9,65.98 L182.4,65.72 L182.9,65.47 L183.4,65.21 L183.9,64.94 L184.4,64.66 L184.9,64.36 L185.4,64.03 L185.9,63.67 L186.4,63.27 L186.9,62.86 L187.4,62.44 L187.9,62.02 L188.4,61.61 L188.9,61.22 L189.4,60.87 L189.9,60.56 L190.4,60.29 L190.9,60.04 L191.4,59.82 L191.9,59.61 L192.4,59.41 L192.9,59.21 L193.4,59.01 L193.9,58.81 L194.4,58.59 L194.9,58.35 L195.4,58.09 L195.9,57.83 L196.4,57.55 L196.9,57.26 L197.4,56.97 L197.9,56.67 L198.4,56.36 L198.9,56.05 L199.4,55.73 L199.9,55.42 L200.4,55.09 L200.9,54.77 L201.4,54.45 L201.9,54.13 L202.4,53.81 L202.9,53.5 L203.4,53.18 L203.9,52.85 L204.4,52.53 L204.9,52.2 L205.4,51.87 L205.9,51.54 L206.4,51.21 L206.9,50.87 L207.4,50.54 L207.9,50.2 L208.4,49.87 L208.9,49.54 L209.4,49.2 L209.9,48.87 L210.4,48.53 L210.9,48.19 L211.4,47.85 L211.9,47.51 L212.4,47.16 L212.9,46.81 L213.4,46.47 L213.9,46.12 L214.4,45.78 L214.9,45.44 L215.4,45.1 L215.9,44.77 L216.4,44.45 L216.9,44.12 L217.4,43.81 L217.9,43.51 L218.4,43.21 L218.9,42.91 L219.4,42.62 L219.9,42.33 L220.4,42.05 L220.9,41.77 L221.4,41.49 L221.9,41.22 L222.4,40.94 L222.9,40.67 L223.4,40.39 L223.9,40.11 L224.4,39.84 L224.9,39.56 L225.4,39.27 L225.9,38.99 L226.4,38.71 L226.9,38.43 L227.4,38.14 L227.9,37.86 L228.4,37.58 L228.9,37.29 L229.4,37.01 L229.9,36.73 L230.4,36.45 L230.9,36.17 L231.4,35.89 L231.9,35.61 L232.4,35.33 L232.9,35.06 L233.4,34.78 L233.9,34.5 L234.4,34.22 L234.9,33.94 L235.4,33.66 L235.9,33.38 L236.4,33.11 L236.9,32.83 L237.4,32.55 L237.9,32.27 L238.4,32 L238.9,31.72 L239.4,31.45 L239.9,31.18 L240.4,30.91 L240.9,30.64 L241.4,30.38 L241.9,30.11 L242.4,29.86 L242.9,29.6 L243.4,29.35 L243.9,29.1 L244.4,28.85 L244.9,28.61 L245.4,28.36 L245.9,28.12 L246.4,27.87 L246.9,27.63 L247.4,27.39 L247.9,27.15 L248.4,26.91 L248.9,26.67 L249.4,26.43 L249.9,26.2 L250.4,25.97 L250.9,25.74 L251.4,25.51 L251.9,25.29 L252.4,25.06 L252.9,24.84 L253.4,24.62 L253.9,24.41 L254.4,24.2 L254.9,23.99 L255.4,23.79 L255.9,23.58 L256.4,23.39 L256.9,23.19 L257.4,23 L257.9,22.81 L258.4,22.62 L258.9,22.44 L259.4,22.25 L259.9,22.07 L260.4,21.89 L260.9,21.71 L261.4,21.53 L261.9,21.35 L262.4,21.18 L262.9,21.01 L263.4,20.84 L263.9,20.67 L264.4,20.51 L264.9,20.34 L265.4,20.19 L265.9,20.03 L266.4,19.88 L266.9,19.73 L267.4,19.59 L267.9,19.45 L268.4,19.31 L268.9,19.18 L269.4,19.05 L269.9,18.92 L270.4,18.8 L270.9,18.69 L271.4,18.57 L271.9,18.45 L272.4,18.34 L272.9,18.23 L273.4,18.12 L273.9,18.02 L274.4,17.91 L274.9,17.81 L275.4,17.71 L275.9,17.61 L276.4,17.51 L276.9,17.42 L277.4,17.32 L277.9,17.23 L278.4,17.14 L278.9,17.05 L279.4,16.97 L279.9,16.88 L280.4,16.8 L280.9,16.72 L281.4,16.64 L281.9,16.56 L282.4,16.49 L282.9,16.41 L283.4,16.34 L283.9,16.27 L284.4,16.2 L284.9,16.14 L285.4,16.07 L285.9,16.01 L286.4,15.94 L286.9,15.88 L287.4,15.82 L287.9,15.76 L288.4,15.7 L288.9,15.65 L289.4,15.59 L289.9,15.54 L290.4,15.48 L290.9,15.43 L291.4,15.37 L291.9,15.32 L292.4,15.27 L292.9,15.22 L293.4,15.16 L293.9,15.11 L294.4,15.06 L294.9,15.01 L295.4,14.96 L295.9,14.91 L296.4,14.85 L296.9,14.8 L297.4,14.74 L297.9,14.68 L298.4,14.63 L298.9,14.57 L299.4,14.51 L299.9,14.46 L300.4,14.41 L300.9,14.35 L301.4,14.3 L301.9,14.26 L302.4,14.21 L302.9,14.17 L303.4,14.13 L303.9,14.1 L304.4,14.07 L304.9,14.04 L305.4,14.02 L305.9,14 L306.4,13.99 L306.9,13.98 L307.4,13.97 L307.9,13.95 L308.4,13.94 L308.9,13.93 L309.4,13.92 L309.9,13.91 L310.4,13.9 L310.9,13.89 L311.4,13.88 L311.9,13.88 L312.4,13.87 L312.9,13.86 L313.4,13.85 L313.9,13.85 L314.4,13.84 L314.9,13.83 L315.4,13.83 L315.9,13.82 L316.4,13.82 L316.9,13.82 L317.4,13.81 L317.9,13.81 L318.4,13.81 L318.9,13.8 L319.4,13.8 L319.9,13.8 L320.4,13.8 L320.9,13.8 L321.4,13.8 L321.9,13.8 L322.4,13.79 L322.9,13.79 L323.4,13.79 L323.9,13.79 L324.4,13.79 L324.9,13.79 L325.4,13.79 L325.9,13.79 L326.4,13.79 L326.9,13.79 L327.4,13.78 L327.9,13.78 L328.4,13.78 L328.9,13.78 L329.4,13.78 L329.9,13.78 L330.4,13.78 L330.9,13.78 L331.4,13.78 L331.9,13.78 L332.4,13.78 L332.9,13.78 L333.4,13.79 L333.9,13.79 L334.4,13.79 L334.9,13.8 L335.4,13.81 L335.9,13.81 L336.4,13.82 L336.9,13.82 L337.4,13.82 L337.9,13.81 L338.4,13.81 L338.9,13.8 L339.4,13.79 L339.9,13.79 L340.4,13.79 L340.9,13.78 L341.4,13.78 L341.9,13.78 L342.4,13.77 L342.9,13.77 L343.4,13.77 L343.9,13.77 L344.4,13.77 L344.9,13.77 L345.4,13.76 L345.9,13.78 L346.4,13.8 L346.9,13.82 L347.4,13.84 L347.9,13.86 L348.4,13.88 L348.9,13.85 L349.4,13.82 L349.9,13.78 L350.4,13.75 L350.9,13.71 L351.4,13.67 L351.9,13.68 L352.4,13.69 L352.9,13.7 L353.4,13.71 L353.9,13.72 L354.4,13.73 L354.9,13.74 L355.4,13.75 L355.9,13.76 L356.4,13.77 L356.9,13.78 L357.4,13.79 L357.9,13.79 L358.4,13.8 L358.9,13.81 L359.4,13.81 L359.9,13.82 L360.4,13.83 L360.9,13.8 L361.4,13.78 L361.9,13.75 L362.4,13.73 L362.9,13.7 L363.4,13.67 L363.9,13.69 L364.4,13.71 L364.9,13.72 L365.4,13.74 L365.9,13.76 L366.4,13.77 L366.9,13.76 L367.4,13.74 L367.9,13.73 L368.4,13.71 L368.9,13.7 L369.4,13.68 L369.9,13.69 L370.4,13.7 L370.9,13.71 L371.4,13.72 L371.9,13.73 L372.4,13.74 L372.9,13.74 L373.4,13.73 L373.9,13.72 L374.4,13.71 L374.9,13.71 L375.4,13.7 L375.9,13.67 L376.4,13.63 L376.9,13.6 L377.4,13.57 L377.9,13.53 L378.4,13.5 L378.9,13.53 L379.4,13.57 L379.9,13.6 L380.4,13.64 L380.9,13.67 L381.4,13.71 L381.9,13.74 L382.4,13.77 L382.9,13.81 L383.4,13.84 L383.9,13.87 L384.4,13.91 L384.9,13.84 L385.4,13.77 L385.9,13.7 L386.4,13.63 L386.9,13.56 L387.4,13.49 L387.9,13.52 L388.4,13.54 L388.9,13.57 L389.4,13.6 L389.9,13.62 L390.4,13.65 L390.9,13.69 L391.4,13.73 L391.9,13.76 L392.4,13.8 L392.9,13.84 L393.4,13.88 L393.9,13.81 L394.4,13.73 L394.9,13.66 L395.4,13.58 L395.9,13.5 L396.4,13.42 L396.9,13.48 L397.4,13.53 L397.9,13.59 L398.4,13.64 L398.9,13.7 L399.4,13.76 L399.9,13.7 L400.4,13.64 L400.9,13.58 L401.4,13.52 L401.9,13.46 L402.4,13.4 L402.9,13.5 L403.4,13.61 L403.9,13.72 L404.4,13.82 L404.9,13.93 L405.4,14.05 L405.9,14.11 L406.4,14.17 L406.9,14.23 L407.4,14.3 L407.9,14.36 L408.4,14.43 L408.9,14.42 L409.4,14.41 L409.9,14.4 L410.4,14.38 L410.9,14.37 L411.4,14.36 L411.9,14.24 L412.4,14.12 L412.9,14 L413.4,13.88 L413.9,13.75 L414.4,13.63 L414.9,13.68 L415.4,13.74 L415.9,13.79 L416.4,13.85 L416.9,13.9 L417.4,13.96 L417.9,13.93 L418.4,13.89 L418.9,13.85 L419.4,13.82 L419.9,13.78 L420.4,13.74 L420.9,13.74 L421.4,13.74 L421.9,13.74 L422.4,13.74 L422.9,13.74 L423.4,13.74 L423.9,13.83 L424.4,13.92 L424.9,14.01 L425.4,14.11 L425.9,14.2 L426.4,14.3 L426.9,14.11 L427.4,13.93 L427.9,13.74 L428.4,13.56 L428.9,13.37 L429.4,13.18 L429.9,13.33 L430.4,13.49 L430.9,13.65 L431.4,13.81 L431.9,13.96 L432.4,14.12 L432.9,14.05 L433.4,13.97 L433.9,13.9 L434.4,13.83" fill="none" stroke="#0000ff" stroke-width="1.1" stroke-linejoin="round"/>
<path d="M45.4,264.43 L45.9,263.53 L46.4,262.63 L46.9,261.73 L47.4,260.83 L47.9,259.93 L48.4,259.03 L48.9,258.13 L49.4,257.23 L49.9,256.33 L50.4,255.45 L50.9,254.58 L51.4,253.71 L51.9,252.84 L52.4,251.97 L52.9,251.1 L53.4,250.23 L53.9,249.36 L54.4,248.5 L54.9,247.63 L55.4,246.77 L55.9,245.9 L56.4,245.04 L56.9,244.18 L57.4,243.32 L57.9,242.46 L58.4,241.6 L58.9,240.74 L59.4,239.89 L59.9,239.03 L60.4,238.18 L60.9,237.32 L61.4,236.47 L61.9,235.62 L62.4,234.77 L62.9,233.91 L63.4,233.06 L63.9,232.21 L64.4,231.37 L64.9,230.52 L65.4,229.67 L65.9,228.83 L66.4,227.99 L66.9,227.14 L67.4,226.3 L67.9,225.47 L68.4,224.63 L68.9,223.8 L69.4,222.97 L69.9,222.14 L70.4,221.31 L70.9,220.49 L71.4,219.67 L71.9,218.85 L72.4,218.03 L72.9,217.22 L73.4,216.41 L73.9,215.59 L74.4,214.78 L74.9,213.98 L75.4,213.17 L75.9,212.36 L76.4,211.56 L76.9,210.75 L77.4,209.95 L77.9,209.14 L78.4,208.34 L78.9,207.54 L79.4,206.74 L79.9,205.94 L80.4,205.15 L80.9,204.35 L81.4,203.56 L81.9,202.76 L82.4,201.97 L82.9,201.17 L83.4,200.37 L83.9,199.57 L84.4,198.76 L84.9,197.95 L85.4,197.13 L85.9,196.31 L86.4,195.49 L86.9,194.66 L87.4,193.83 L87.9,192.99 L88.4,192.16 L88.9,191.32 L89.4,190.48 L89.9,189.64 L90.4,188.8 L90.9,187.97 L91.4,187.13 L91.9,186.3 L92.4,185.47 L92.9,184.64 L93.4,183.82 L93.9,183 L94.4,182.18 L94.9,181.35 L95.4,180.52 L95.9,179.69 L96.4,178.86 L96.9,178.03 L97.4,177.2 L97.9,176.37 L98.4,175.54 L98.9,174.72 L99.4,173.9 L99.9,173.09 L100.4,172.28 L100.9,171.49 L101.4,170.7 L101.9,169.93 L102.4,169.16 L102.9,168.41 L103.4,167.67 L103.9,166.95 L104.4,166.24 L104.9,165.54 L105.4,164.85 L105.9,164.16 L106.4,163.49 L106.9,162.82 L107.4,162.16 L107.9,161.51 L108.4,160.86 L108.9,160.22 L109.4,159.59 L109.9,158.96 L110.4,158.33 L110.9,157.71 L111.4,157.09 L111.9,156.48 L112.4,155.87 L112.9,155.26 L113.4,154.65 L113.9,154.04 L114.4,153.44 L114.9,152.83 L115.4,152.23 L115.9,151.62 L116.4,151.02 L116.9,150.42 L117.4,149.82 L117.9,149.23 L118.4,148.64 L118.9,148.05 L119.4,147.47 L119.9,146.89 L120.4,146.31 L120.9,145.73 L121.4,145.16 L121.9,144.59 L122.4,144.02 L122.9,143.46 L123.4,142.89 L123.9,142.33 L124.4,141.76 L124.9,141.19 L125.4,140.62 L125.9,140.04 L126.4,139.46 L126.9,138.89 L127.4,138.31 L127.9,137.75 L128.4,137.18 L128.9,136.63 L129.4,136.08 L129.9,135.55 L130.4,135.02 L130.9,134.52 L131.4,134.02 L131.9,133.55 L132.4,133.09 L132.9,132.65 L133.4,132.22 L133.9,131.79 L134.4,131.38 L134.9,130.98 L135.4,130.58 L135.9,130.19 L136.4,129.8 L136.9,129.43 L137.4,129.06 L137.9,128.7 L138.4,128.34 L138.9,127.99 L139.4,127.65 L139.9,127.31 L140.4,126.98 L140.9,126.65 L141.4,126.33 L141.9,126.01 L142.4,125.7 L142.9,125.39 L143.4,125.1 L143.9,124.8 L144.4,124.52 L144.9,124.23 L145.4,123.95 L145.9,123.68 L146.4,123.41 L146.9,123.14 L147.4,122.87 L147.9,122.61 L148.4,122.34 L148.9,122.08 L149.4,121.82 L149.9,121.55 L150.4,121.29 L150.9,121.03 L151.4,120.77 L151.9,120.51 L152.4,120.25 L152.9,119.99 L153.4,119.74 L153.9,119.49 L154.4,119.24 L154.9,118.99 L155.4,118.74 L155.9,118.49 L156.4,118.24 L156.9,118 L157.4,117.75 L157.9,117.51 L158.4,117.27 L158.9,117.03 L159.4,116.79 L159.9,116.55 L160.4,116.31 L160.9,116.06 L161.4,115.81 L161.9,115.56 L162.4,115.3 L162.9,115.04 L163.4,114.78 L163.9,114.52 L164.4,114.26 L164.9,114 L165.4,113.74 L165.9,113.49 L166.4,113.24 L166.9,112.99 L167.4,112.75 L167.9,112.52 L168.4,112.29 L168.9,112.07 L169.4,111.86 L169.9,111.66 L170.4,111.47 L170.9,111.29 L171.4,111.12 L171.9,110.97 L172.4,110.83 L172.9,110.7 L173.4,110.58 L173.9,110.46 L174.4,110.36 L174.9,110.26 L175.4,110.16 L175.9,110.07 L176.4,109.98 L176.9,109.9 L177.4,109.82 L177.9,109.74 L178.4,109.67 L178.9,109.59 L179.4,109.52 L179.9,109.44 L180.4,109.36 L180.9,109.29 L181.4,109.2 L181.9,109.12 L182.4,109.03 L182.9,108.94 L183.4,108.85 L183.9,108.75 L184.4,108.64 L184.9,108.52 L185.4,108.4 L185.9,108.26 L186.4,108.12 L186.9,107.96 L187.4,107.8 L187.9,107.63 L188.4,107.45 L188.9,107.27 L189.4,107.08 L189.9,106.9 L190.4,106.71 L190.9,106.52 L191.4,106.34 L191.9,106.16 L192.4,105.98 L192.9,105.81 L193.4,105.65 L193.9,105.5 L194.4,105.36 L194.9,105.22 L195.4,105.1 L195.9,104.99 L196.4,104.87 L196.9,104.77 L197.4,104.66 L197.9,104.56 L198.4,104.46 L198.9,104.37 L199.4,104.27 L199.9,104.18 L200.4,104.09 L200.9,103.99 L201.4,103.88 L201.9,103.81 L202.4,103.76 L202.9,103.72 L203.4,103.69 L203.9,103.58 L204.4,103.46 L204.9,103.41 L205.4,103.36 L205.9,103.27 L206.4,103.17 L206.9,103.02 L207.4,102.86 L207.9,102.9 L208.4,102.96 L208.9,102.72 L209.4,102.46 L209.9,102.42 L210.4,102.38 L210.9,102.28 L211.4,102.16 L211.9,102.04 L212.4,101.92 L212.9,101.69 L213.4,101.47 L213.9,101.28 L214.4,101.1 L214.9,100.82 L215.4,100.55 L215.9,100.36 L216.4,100.2 L216.9,100.28 L217.4,100.42 L217.9,100.33 L218.4,100.28 L218.9,100.28 L219.4,100.31 L219.9,100.44 L220.4,100.59 L220.9,100.86 L221.4,101.14 L221.9,101.09 L222.4,101.04 L222.9,101.26 L223.4,101.47 L223.9,101.53 L224.4,101.56 L224.9,101.93 L225.4,102.26 L225.9,102.28 L226.4,102.26 L226.9,102.46 L227.4,102.64 L227.9,101.79 L228.4,100.9 L228.9,100.84 L229.4,100.76 L229.9,100.84 L230.4,100.91 L230.9,100.41 L231.4,99.89 L231.9,99.6 L232.4,99.31 L232.9,99.53 L233.4,99.78 L233.9,99.09 L234.4,98.41 L234.9,98.04 L235.4,97.7 L235.9,97.55 L236.4,97.44 L236.9,97.85 L237.4,98.28 L237.9,98.27 L238.4,98.26 L238.9,97.81 L239.4,97.34 L239.9,97.44 L240.4,97.54 L240.9,97.97 L241.4,98.41 L241.9,98.43 L242.4,98.44 L242.9,98.08 L243.4,97.71 L243.9,98.09 L244.4,98.49 L244.9,98.48 L245.4,98.46 L245.9,97.71 L246.4,96.94 L246.9,97.41 L247.4,97.89 L247.9,98.13 L248.4,98.38 L248.9,98.05 L249.4,97.73 L249.9,97.29 L250.4,96.91 L250.9,97.74 L251.4,98.57 L251.9,99.07 L252.4,99.52 L252.9,99.77 L253.4,99.83 L253.9,98.13 L254.4,96.31 L254.9,97.36 L255.4,98.35 L255.9,96.37 L256.4,94.41 L256.9,94.52 L257.4,94.71 L257.9,94.42 L258.4,94.29 L258.9,94.17 L259.4,94.14 L259.9,93.98 L260.4,93.86 L260.9,93.62 L261.4,93.42 L261.9,94.3 L262.4,95.19 L262.9,95.01 L263.4,94.84 L263.9,94.49 L264.4,94.12 L264.9,96.15 L265.4,98.13 L265.9,97.53 L266.4,96.87 L266.9,97.2 L267.4,97.31 L267.9,95.95 L268.4,94.53 L268.9,94.85 L269.4,95.28 L269.9,95.13 L270.4,95.18 L270.9,95.24 L271.4,95.33 L271.9,94.95 L272.4,94.61 L272.9,94.43 L273.4,94.27 L273.9,94.87 L274.4,95.48 L274.9,95.08 L275.4,94.69 L275.9,95.14 L276.4,95.59 L276.9,96.45 L277.4,97.29 L277.9,97.16 L278.4,97 L278.9,97.44 L279.4,97.85 L279.9,97.96 L280.4,98.01 L280.9,98.7 L281.4,99.31 L281.9,98.96 L282.4,98.82 L282.9,98.25 L283.4,97.64 L283.9,98.15 L284.4,98.23 L284.9,97.33 L285.4,96.63 L285.9,96.44 L286.4,96.45 L286.9,96.87 L287.4,96.95 L287.9,96.11 L288.4,95.64 L288.9,95.58 L289.4,95.65 L289.9,95.01 L290.4,94.4 L290.9,94.86 L291.4,94.67 L291.9,95.44 L292.4,94.87 L292.9,94.1 L293.4,92.78 L293.9,93.27 L294.4,93.76 L294.9,93.66 L295.4,92.47 L295.9,92.57 L296.4,92.28 L296.9,92.03 L297.4,91.76 L297.9,93.08 L298.4,93.1 L298.9,94.18 L299.4,94.4 L299.9,93.48 L300.4,92.81 L300.9,92.5 L301.4,94.18 L301.9,93.45 L302.4,95.98 L302.9,95.71 L303.4,95.38 L303.9,95.75 L304.4,97.75 L304.9,98.25 L305.4,96.6 L305.9,97.08 L306.4,98.03 L306.9,97.77 L307.4,99.05 L307.9,97.05 L308.4,97.5 L308.9,96.36 L309.4,98.8 L309.9,96.42 L310.4,94.93 L310.9,96.71 L311.4,96.75 L311.9,97.55 L312.4,95.01 L312.9,95.19 L313.4,95.72 L313.9,96.16 L314.4,94.57 L314.9,95.82 L315.4,95.73 L315.9,95.16 L316.4,95.61 L316.9,95.03 L317.4,93.64 L317.9,95.79 L318.4,93.62 L318.9,95.99 L319.4,95.79 L319.9,95.34 L320.4,95.23 L320.9,96.08 L321.4,97.11 L321.9,97.19 L322.4,96.53 L322.9,96.97 L323.4,95.07 L323.9,96.51 L324.4,95.2 L324.9,96.89 L325.4,95.43 L325.9,95.77 L326.4,98.48 L326.9,97.41 L327.4,92.87 L327.9,95.57 L328.4,93.29 L328.9,97.89 L329.4,101.24 L329.9,97.41 L330.4,97.87 L330.9,96.77 L331.4,96.79 L331.9,97.54 L332.4,98.72 L332.9,95.92 L333.4,98.96 L333.9,96.08 L334.4,97.69 L334.9,98.36 L335.4,97.42 L335.9,95.7 L336.4,96.27 L336.9,96.95 L337.4,97.83 L337.9,99.27 L338.4,96.27 L338.9,98.75 L339.4,99.25 L339.9,98.92 L340.4,98.53 L340.9,100.51 L341.4,99.92 L341.9,99.54 L342.4,98.36 L342.9,100.18 L343.4,95.91 L343.9,99.27 L344.4,96.77 L344.9,96.95 L345.4,96.29 L345.9,95.89 L346.4,98.46 L346.9,97.41 L347.4,98.13 L347.9,95.86 L348.4,99.62 L348.9,97.66 L349.4,96.48 L349.9,95.23 L350.4,94.47 L350.9,93.85 L351.4,94.42 L351.9,94.76 L352.4,94.24 L352.9,92.52 L353.4,93.9 L353.9,93.44 L354.4,95.14 L354.9,97.32 L355.4,95.77 L355.9,94.31 L356.4,92.38 L356.9,92.65 L357.4,92.31 L357.9,95.82 L358.4,94.34 L358.9,95.42 L359.4,94.56 L359.9,95.9 L360.4,98.01 L360.9,95.88 L361.4,96.88 L361.9,95.92 L362.4,97.74 L362.9,95.16 L363.4,94.9 L363.9,94.64 L364.4,94.67 L364.9,97.01 L365.4,99.64 L365.9,95.05 L366.4,97.62 L366.9,96.72 L367.4,94.94 L367.9,96.17 L368.4,96.35 L368.9,95.68 L369.4,99.02 L369.9,94.18 L370.4,97.35 L370.9,96.85 L371.4,95.21 L371.9,96.05 L372.4,96.9 L372.9,95.51 L373.4,95.43 L373.9,96.35 L374.4,93.3 L374.9,97.52 L375.4,98.16 L375.9,96.64 L376.4,96.9 L376.9,93.34 L377.4,94.76 L377.9,93.99 L378.4,94.46 L378.9,96.13 L379.4,93.35 L379.9,94.53 L380.4,92.43 L380.9,95.33 L381.4,96.22 L381.9,94.25 L382.4,93.34 L382.9,97.54 L383.4,94.02 L383.9,94.45 L384.4,94.99 L384.9,97.49 L385.4,98.5 L385.9,96.26 L386.4,95 L386.9,95.6 L387.4,97.83 L387.9,94.72 L388.4,97.54 L388.9,97.81 L389.4,96.28 L389.9,96.81 L390.4,96.69 L390.9,97.9 L391.4,94.42 L391.9,97.56 L392.4,95.48 L392.9,95.11 L393.4,96.48 L393.9,96.16 L394.4,95.21 L394.9,94.49 L395.4,95.52 L395.9,98.44 L396.4,98.75 L396.9,97.78 L397.4,99.37 L397.9,96.84 L398.4,97.29 L398.9,97.72 L399.4,95.74 L399.9,95.64 L400.4,96.92 L400.9,96.42 L401.4,95.45 L401.9,97.65 L402.4,96.89 L402.9,98.66 L403.4,97.17 L403.9,96.24 L404.4,96.33 L404.9,96.42 L405.4,96.22 L405.9,97.04 L406.4,99.1 L406.9,97.78 L407.4,97.51 L407.9,93.84 L408.4,96.25 L408.9,95.97 L409.4,96.57 L409.9,95.46 L410.4,95.16 L410.9,97.24 L411.4,96.6 L411.9,93.99 L412.4,96.9 L412.9,96.61 L413.4,94.55 L413.9,96.77 L414.4,94.7 L414.9,96.93 L415.4,94.53 L415.9,93.55 L416.4,94.05 L416.9,93.53 L417.4,94.98 L417.9,94.78 L418.4,94.42 L418.9,93.96 L419.4,89.86 L419.9,94.78 L420.4,91.34 L420.9,94.85 L421.4,96.54 L421.9,94.84 L422.4,93.42 L422.9,94.16 L423.4,94.66 L423.9,93.9 L424.4,93.71 L424.9,92.7 L425.4,95.31 L425.9,94.13 L426.4,96.15 L426.9,94.18 L427.4,94.48 L427.9,94.3 L428.4,95.42 L428.9,96.43 L429.4,96.04 L429.9,94.18 L430.4,93.53 L430.9,97.24 L431.4,94.44 L431.9,95.02 L432.4,98.24 L432.9,97.49 L433.4,96.48 L433.9,95.47 L434.4,99.98" fill="none" stroke="#008000" stroke-width="1.1" stroke-linejoin="round"/>
<path d="M45.4,264.43 L45.9,263.53 L46.4,262.63 L46.9,261.73 L47.4,260.83 L47.9,259.93 L48.4,259.03 L48.9,258.13 L49.4,257.23 L49.9,256.33 L50.4,255.43 L50.9,254.53 L51.4,253.63 L51.9,252.73 L52.4,251.83 L52.9,250.94 L53.4,250.04 L53.9,249.14 L54.4,248.24 L54.9,247.34 L55.4,246.44 L55.9,245.54 L56.4,244.64 L56.9,243.74 L57.4,242.84 L57.9,241.94 L58.4,241.04 L58.9,240.14 L59.4,239.24 L59.9,238.34 L60.4,237.44 L60.9,236.54 L61.4,235.64 L61.9,234.74 L62.4,233.84 L62.9,232.94 L63.4,232.05 L63.9,231.15 L64.4,230.25 L64.9,229.35 L65.4,228.45 L65.9,227.55 L66.4,226.65 L66.9,225.75 L67.4,224.85 L67.9,223.95 L68.4,223.05 L68.9,222.15 L69.4,221.25 L69.9,220.35 L70.4,219.45 L70.9,218.54 L71.4,217.63 L71.9,216.71 L72.4,215.8 L72.9,214.88 L73.4,213.96 L73.9,213.04 L74.4,212.12 L74.9,211.19 L75.4,210.26 L75.9,209.33 L76.4,208.39 L76.9,207.46 L77.4,206.52 L77.9,205.58 L78.4,204.64 L78.9,203.69 L79.4,202.74 L79.9,201.79 L80.4,200.84 L80.9,199.88 L81.4,198.92 L81.9,197.95 L82.4,196.98 L82.9,196.01 L83.4,195.03 L83.9,194.05 L84.4,193.07 L84.9,192.09 L85.4,191.11 L85.9,190.12 L86.4,189.13 L86.9,188.15 L87.4,187.16 L87.9,186.17 L88.4,185.18 L88.9,184.19 L89.4,183.2 L89.9,182.21 L90.4,181.22 L90.9,180.24 L91.4,179.25 L91.9,178.27 L92.4,177.28 L92.9,176.3 L93.4,175.32 L93.9,174.34 L94.4,173.36 L94.9,172.38 L95.4,171.39 L95.9,170.41 L96.4,169.43 L96.9,168.44 L97.4,167.46 L97.9,166.48 L98.4,165.5 L98.9,164.52 L99.4,163.54 L99.9,162.57 L100.4,161.6 L100.9,160.63 L101.4,159.66 L101.9,158.69 L102.4,157.73 L102.9,156.78 L103.4,155.84 L103.9,154.91 L104.4,153.98 L104.9,153.05 L105.4,152.13 L105.9,151.21 L106.4,150.29 L106.9,149.36 L107.4,148.44 L107.9,147.5 L108.4,146.56 L108.9,145.62 L109.4,144.66 L109.9,143.69 L110.4,142.71 L110.9,141.71 L111.4,140.7 L111.9,139.67 L112.4,138.58 L112.9,137.48 L113.4,136.36 L113.9,135.25 L114.4,134.16 L114.9,133.1 L115.4,132.09 L115.9,131.09 L116.4,130.11 L116.9,129.14 L117.4,128.18 L117.9,127.24 L118.4,126.31 L118.9,125.39 L119.4,124.48 L119.9,123.58 L120.4,122.69 L120.9,121.81 L121.4,120.94 L121.9,120.07 L122.4,119.22 L122.9,118.38 L123.4,117.56 L123.9,116.74 L124.4,115.94 L124.9,115.16 L125.4,114.38 L125.9,113.62 L126.4,112.87 L126.9,112.13 L127.4,111.4 L127.9,110.68 L128.4,109.98 L128.9,109.28 L129.4,108.6 L129.9,107.93 L130.4,107.28 L130.9,106.63 L131.4,106 L131.9,105.38 L132.4,104.76 L132.9,104.16 L133.4,103.56 L133.9,102.97 L134.4,102.39 L134.9,101.81 L135.4,101.24 L135.9,100.68 L136.4,100.12 L136.9,99.57 L137.4,99.03 L137.9,98.49 L138.4,97.96 L138.9,97.43 L139.4,96.91 L139.9,96.4 L140.4,95.89 L140.9,95.38 L141.4,94.86 L141.9,94.36 L142.4,93.85 L142.9,93.36 L143.4,92.88 L143.9,92.43 L144.4,91.99 L144.9,91.58 L145.4,91.19 L145.9,90.8 L146.4,90.42 L146.9,90.05 L147.4,89.7 L147.9,89.36 L148.4,89.04 L148.9,88.75 L149.4,88.48 L149.9,88.24 L150.4,88.03 L150.9,87.83 L151.4,87.63 L151.9,87.45 L152.4,87.29 L152.9,87.14 L153.4,87.02 L153.9,86.92 L154.4,86.84 L154.9,86.78 L155.4,86.73 L155.9,86.69 L156.4,86.64 L156.9,86.59 L157.4,86.52 L157.9,86.43 L158.4,86.32 L158.9,86.19 L159.4,86.04 L159.9,85.86 L160.4,85.65 L160.9,85.36 L161.4,84.94 L161.9,84.43 L162.4,83.87 L162.9,83.31 L163.4,82.76 L163.9,82.17 L164.4,81.55 L164.9,80.92 L165.4,80.28 L165.9,79.64 L166.4,79.01 L166.9,78.36 L167.4,77.68 L167.9,76.97 L168.4,76.27 L168.9,75.56 L169.4,74.87 L169.9,74.21 L170.4,73.59 L170.9,73.02 L171.4,72.51 L171.9,72.08 L172.4,71.72 L172.9,71.42 L173.4,71.15 L173.9,70.89 L174.4,70.64 L174.9,70.36 L175.4,70.05 L175.9,69.73 L176.4,69.39 L176.9,69.04 L177.4,68.7 L177.9,68.35 L178.4,68.01 L178.9,67.68 L179.4,67.36 L179.9,67.06 L180.4,66.78 L180.9,66.53 L181.4,66.29 L181.9,66.06 L182.4,65.83 L182.9,65.61 L183.4,65.37 L183.9,65.13 L184.4,64.86 L184.9,64.56 L185.4,64.23 L185.9,63.85 L186.4,63.44 L186.9,63.02 L187.4,62.59 L187.9,62.11 L188.4,61.54 L188.9,60.97 L189.4,60.5 L189.9,60.22 L190.4,60.14 L190.9,60.08 L191.4,60.03 L191.9,59.98 L192.4,59.95 L192.9,59.92 L193.4,59.89 L193.9,59.86 L194.4,59.84 L194.9,59.81 L195.4,59.77 L195.9,59.75 L196.4,59.73 L196.9,59.71 L197.4,59.68 L197.9,59.66 L198.4,59.64 L198.9,59.6 L199.4,59.56 L199.9,59.51 L200.4,59.39 L200.9,59.1 L201.4,58.69 L201.9,58.18 L202.4,57.64 L202.9,57.08 L203.4,56.57 L203.9,56.13 L204.4,55.72 L204.9,55.34 L205.4,54.96 L205.9,54.59 L206.4,54.23 L206.9,53.86 L207.4,53.48 L207.9,53.1 L208.4,52.7 L208.9,52.27 L209.4,51.83 L209.9,51.35 L210.4,50.8 L210.9,50.12 L211.4,49.37 L211.9,48.6 L212.4,47.87 L212.9,47.23 L213.4,46.73 L213.9,46.43 L214.4,46.23 L214.9,46.09 L215.4,45.99 L215.9,45.89 L216.4,45.79 L216.9,45.67 L217.4,45.53 L217.9,45.36 L218.4,45.16 L218.9,44.92 L219.4,44.56 L219.9,44.05 L220.4,43.46 L220.9,42.81 L221.4,42.18 L221.9,41.65 L222.4,41.3 L222.9,41.09 L223.4,40.89 L223.9,40.71 L224.4,40.54 L224.9,40.4 L225.4,40.27 L225.9,40.18 L226.4,40.09 L226.9,40.03 L227.4,39.94 L227.9,40.15 L228.4,40.49 L228.9,41.1 L229.4,41.77 L229.9,42.04 L230.4,41.8 L230.9,41.02 L231.4,40.28 L231.9,39.41 L232.4,38.98 L232.9,39.08 L233.4,39.03 L233.9,39.21 L234.4,39.49 L234.9,39.94 L235.4,40.07 L235.9,39.85 L236.4,39.81 L236.9,39.2 L237.4,39.13 L237.9,38.6 L238.4,38.09 L238.9,37.3 L239.4,37.12 L239.9,36.74 L240.4,36.63 L240.9,37.07 L241.4,37.59 L241.9,38.22 L242.4,39 L242.9,38.53 L243.4,38.17 L243.9,37.75 L244.4,36.2 L244.9,35.64 L245.4,35.12 L245.9,34.45 L246.4,33.63 L246.9,33.71 L247.4,33.3 L247.9,32.73 L248.4,32.75 L248.9,33.3 L249.4,33.14 L249.9,32.23 L250.4,33.38 L250.9,33.04 L251.4,33.24 L251.9,32.45 L252.4,32.14 L252.9,31.2 L253.4,32.08 L253.9,30.48 L254.4,31.03 L254.9,29.91 L255.4,30.14 L255.9,29.17 L256.4,29.58 L256.9,30 L257.4,28.71 L257.9,29.57 L258.4,28.96 L258.9,28.03 L259.4,28.07 L259.9,27.88 L260.4,27.93 L260.9,27.57 L261.4,27.36 L261.9,27.77 L262.4,27.79 L262.9,28.12 L263.4,29.14 L263.9,29.58 L264.4,27.57 L264.9,27.69 L265.4,26.77 L265.9,26.57 L266.4,28.01 L266.9,27.65 L267.4,29.44 L267.9,28.44 L268.4,29.46 L268.9,29.28 L269.4,29.12 L269.9,30.21 L270.4,29.99 L270.9,30.94 L271.4,31.45 L271.9,31.55 L272.4,32.19 L272.9,31.57 L273.4,31.15 L273.9,28.71 L274.4,28.51 L274.9,27.05 L275.4,29.27 L275.9,28.89 L276.4,29.42 L276.9,31.71 L277.4,33.19 L277.9,31.12 L278.4,30.97 L278.9,30.53 L279.4,29.49 L279.9,30.17 L280.4,29.04 L280.9,29.14 L281.4,30.3 L281.9,29.29 L282.4,30.43 L282.9,29.4 L283.4,29.39 L283.9,29.2 L284.4,32.9 L284.9,31.59 L285.4,32.98 L285.9,34.15 L286.4,35.94 L286.9,37.29 L287.4,40 L287.9,38.01 L288.4,38.15 L288.9,39.26 L289.4,39.62 L289.9,42.46 L290.4,43.38 L290.9,42.28 L291.4,42 L291.9,41.91 L292.4,41.72 L292.9,35.54 L293.4,36.2 L293.9,32.77 L294.4,34.93 L294.9,32.97 L295.4,34.02 L295.9,32.91 L296.4,33.34 L296.9,35.23 L297.4,33.87 L297.9,32.03 L298.4,31.48 L298.9,30.48 L299.4,32.28 L299.9,32.86 L300.4,32.94 L300.9,32.99 L301.4,31.19 L301.9,31.36 L302.4,30.03 L302.9,30.84 L303.4,30.94 L303.9,27.12 L304.4,25.33 L304.9,25.83 L305.4,24.53 L305.9,24.24 L306.4,25.92 L306.9,24.87 L307.4,28.85 L307.9,28.19 L308.4,29.34 L308.9,28.78 L309.4,27.92 L309.9,27.81 L310.4,30.01 L310.9,30.21 L311.4,32.99 L311.9,33.56 L312.4,31.65 L312.9,36.21 L313.4,33.98 L313.9,34.28 L314.4,31.23 L314.9,24.17 L315.4,27.33 L315.9,25.98 L316.4,24.18 L316.9,23.07 L317.4,23.28 L317.9,22.37 L318.4,24.64 L318.9,24.85 L319.4,27.23 L319.9,25.24 L320.4,29.33 L320.9,30.02 L321.4,30.38 L321.9,30.61 L322.4,33.45 L322.9,28.79 L323.4,33.87 L323.9,33.36 L324.4,31.09 L324.9,28.97 L325.4,27.13 L325.9,29.68 L326.4,32.91 L326.9,31.79 L327.4,29.1 L327.9,22.59 L328.4,25.48 L328.9,26.57 L329.4,26.06 L329.9,24.15 L330.4,19.93 L330.9,25.59 L331.4,23.03 L331.9,17.49 L332.4,24.17 L332.9,20 L333.4,21.81 L333.9,25.61 L334.4,32.56 L334.9,30.91 L335.4,33.49 L335.9,35.83 L336.4,32.41 L336.9,26.14 L337.4,24.31 L337.9,20.62 L338.4,20.91 L338.9,22.89 L339.4,22.44 L339.9,21.44 L340.4,23.22 L340.9,18.88 L341.4,20.42 L341.9,22.22 L342.4,21.9 L342.9,23.13 L343.4,21.69 L343.9,20.22 L344.4,23.22 L344.9,23.22 L345.4,23.53 L345.9,26.94 L346.4,21.87 L346.9,20.32 L347.4,15.82 L347.9,20.16 L348.4,21.29 L348.9,22.5 L349.4,20.8 L349.9,26.41 L350.4,28.88 L350.9,22.5 L351.4,15.32 L351.9,15.68 L352.4,16.85 L352.9,8.11 L353.4,14.07 L353.9,15.51 L354.4,15.73 L354.9,18.02 L355.4,16.62 L355.9,14.63 L356.4,14.56 L356.9,15.65 L357.4,12.55 L357.9,13.72 L358.4,16.02 L358.9,18.65 L359.4,14.02 L359.9,14.57 L360.4,15.43 L360.9,18.31 L361.4,15.34 L361.9,18.86 L362.4,13.25 L362.9,14.88 L363.4,14.63 L363.9,16.6 L364.4,16.9 L364.9,10.86 L365.4,12.02 L365.9,14.76 L366.4,12.57 L366.9,10.83 L367.4,16.9 L367.9,16.03 L368.4,16.4 L368.9,14.57 L369.4,18.18 L369.9,15.46 L370.4,18.4 L370.9,13.78 L371.4,13.68 L371.9,15.76 L372.4,13.48 L372.9,16.27 L373.4,15.16 L373.9,12.47 L374.4,14.72 L374.9,13.99 L375.4,17.07 L375.9,14.04 L376.4,14.84 L376.9,18.77 L377.4,21.24 L377.9,20.83 L378.4,16.57 L378.9,16.68 L379.4,19.22 L379.9,15.38 L380.4,13.41 L380.9,17.77 L381.4,23.05 L381.9,21.09 L382.4,15.99 L382.9,13.55 L383.4,18.2 L383.9,15.98 L384.4,18.04 L384.9,18.9 L385.4,19.3 L385.9,16.51 L386.4,17.4 L386.9,13.74 L387.4,14.35 L387.9,12.53 L388.4,16.64 L388.9,13.84 L389.4,11.97 L389.9,12.35 L390.4,12.14 L390.9,13.49 L391.4,8.13 L391.9,8.67 L392.4,9.44 L392.9,14.9 L393.4,11.17 L393.9,8.46 L394.4,9.65 L394.9,11.99 L395.4,7.07 L395.9,6.76 L396.4,10.03 L396.9,8.68 L397.4,9.19 L397.9,6.98 L398.4,12.1 L398.9,11.9 L399.4,9.92 L399.9,10.55 L400.4,5.51 L400.9,11.32 L401.4,10.08 L401.9,11.73 L402.4,12.63 L402.9,11.03 L403.4,8.89 L403.9,13.74 L404.4,12.85 L404.9,15.59 L405.4,16.97 L405.9,19.79 L406.4,18.31 L406.9,27.17 L407.4,25.7 L407.9,24.86 L408.4,24.03 L408.9,21.8 L409.4,21.29 L409.9,22.48 L410.4,19.96 L410.9,19.64 L411.4,18.92 L411.9,12.97 L412.4,15.96 L412.9,11.03 L413.4,13.49 L413.9,11.67 L414.4,10.18 L414.9,9.2 L415.4,6.38 L415.9,5.05 L416.4,3.11 L416.9,6.95 L417.4,11.37 L417.9,12.26 L418.4,11.37 L418.9,10.54 L419.4,8.15 L419.9,12.39 L420.4,9.37 L420.9,8.94 L421.4,7.99 L421.9,8.25 L422.4,6.9 L422.9,7.28 L423.4,5.08 L423.9,6.16 L424.4,10.93 L424.9,6.07 L425.4,5.29 L425.9,6.22 L426.4,5.99 L426.9,1.98 L427.4,3.11 L427.9,4.59 L428.4,2.8 L428.9,2.24 L429.4,5.45 L429.9,2.79 L430.4,6.02 L430.9,7.24 L431.4,13.44 L431.9,8.37 L432.4,11.78 L432.9,12.64 L433.4,14.63 L433.9,12.75 L434.4,11.2" fill="none" stroke="#000" stroke-width="1.2" stroke-linejoin="round"/>
</g>
<path d="M45.5,0.6 V265" stroke="#000" stroke-width="0.62"/><path d="M434.5,0.6 V265" stroke="#000" stroke-width="0.62"/><path d="M45.2,265 H434.8" stroke="#000" stroke-width="0.66"/><rect x="45.1" y="0" width="389.8" height="1.7" fill="#b3b3b3"/>
<path d="M45.4,265 V267.3 M123.22,265 V267.3 M201.04,265 V267.3 M278.86,265 V267.3 M356.68,265 V267.3 M434.5,265 V267.3 M45.5,215.5 H43.1 M45.5,145.5 H43.1 M45.5,75.5 H43.1 M45.5,5.5 H43.1" stroke="#000" stroke-width="0.8" fill="none"/>
<path d="M68.83,265 V266.4 M82.53,265 V266.4 M92.25,265 V266.4 M99.79,265 V266.4 M105.96,265 V266.4 M111.17,265 V266.4 M115.68,265 V266.4 M119.66,265 V266.4 M146.65,265 V266.4 M160.35,265 V266.4 M170.07,265 V266.4 M177.61,265 V266.4 M183.78,265 V266.4 M188.99,265 V266.4 M193.5,265 V266.4 M197.48,265 V266.4 M224.47,265 V266.4 M238.17,265 V266.4 M247.89,265 V266.4 M255.43,265 V266.4 M261.6,265 V266.4 M266.81,265 V266.4 M271.32,265 V266.4 M275.3,265 V266.4 M302.29,265 V266.4 M315.99,265 V266.4 M325.71,265 V266.4 M333.25,265 V266.4 M339.42,265 V266.4 M344.63,265 V266.4 M349.14,265 V266.4 M353.12,265 V266.4 M380.11,265 V266.4 M393.81,265 V266.4 M403.53,265 V266.4 M411.07,265 V266.4 M417.24,265 V266.4 M422.45,265 V266.4 M426.96,265 V266.4 M430.94,265 V266.4 M45.5,264.43 H44.1 M45.5,252.1 H44.1 M45.5,243.36 H44.1 M45.5,236.57 H44.1 M45.5,231.03 H44.1 M45.5,226.34 H44.1 M45.5,222.28 H44.1 M45.5,218.7 H44.1 M45.5,194.43 H44.1 M45.5,182.1 H44.1 M45.5,173.36 H44.1 M45.5,166.57 H44.1 M45.5,161.03 H44.1 M45.5,156.34 H44.1 M45.5,152.28 H44.1 M45.5,148.7 H44.1 M45.5,124.43 H44.1 M45.5,112.1 H44.1 M45.5,103.36 H44.1 M45.5,96.57 H44.1 M45.5,91.03 H44.1 M45.5,86.34 H44.1 M45.5,82.28 H44.1 M45.5,78.7 H44.1 M45.5,54.43 H44.1 M45.5,42.1 H44.1 M45.5,33.36 H44.1 M45.5,26.57 H44.1 M45.5,21.03 H44.1 M45.5,16.34 H44.1 M45.5,12.28 H44.1 M45.5,8.7 H44.1" stroke="#000" stroke-width="0.6" fill="none"/>
<g transform="translate(45.4,0) scale(1.1,1) translate(-45.4,0)"><text x="34.09" y="277.7" font-size="11.2">10</text><path d="M47.35,270.8 H51.95" stroke="#000" stroke-width="0.8"/><text x="52.35" y="273.3" font-size="7.84">1</text></g>
<g transform="translate(123.22,0) scale(1.1,1) translate(-123.22,0)"><text x="114.56" y="277.7" font-size="11.2">10</text><text x="127.52" y="273.3" font-size="7.84">0</text></g>
<g transform="translate(201.04,0) scale(1.1,1) translate(-201.04,0)"><text x="192.38" y="277.7" font-size="11.2">10</text><text x="205.34" y="273.3" font-size="7.84">1</text></g>
<g transform="translate(278.86,0) scale(1.1,1) translate(-278.86,0)"><text x="270.2" y="277.7" font-size="11.2">10</text><text x="283.16" y="273.3" font-size="7.84">2</text></g>
<g transform="translate(356.68,0) scale(1.1,1) translate(-356.68,0)"><text x="348.02" y="277.7" font-size="11.2">10</text><text x="360.98" y="273.3" font-size="7.84">3</text></g>
<g transform="translate(434.5,0) scale(1.1,1) translate(-434.5,0)"><text x="425.84" y="277.7" font-size="11.2">10</text><text x="438.8" y="273.3" font-size="7.84">4</text></g>
<g transform="translate(40.2,0) scale(1.1,1) translate(-40.2,0)"><text x="17.59" y="219.8" font-size="11.2">10</text><path d="M30.84,212.9 H35.44" stroke="#000" stroke-width="0.8"/><text x="35.84" y="215.4" font-size="7.84">1</text></g>
<g transform="translate(40.2,0) scale(1.1,1) translate(-40.2,0)"><text x="22.89" y="149.8" font-size="11.2">10</text><text x="35.84" y="145.4" font-size="7.84">0</text></g>
<g transform="translate(40.2,0) scale(1.1,1) translate(-40.2,0)"><text x="22.89" y="79.8" font-size="11.2">10</text><text x="35.84" y="75.4" font-size="7.84">1</text></g>
<g transform="translate(40.2,0) scale(1.1,1) translate(-40.2,0)"><text x="22.89" y="9.8" font-size="11.2">10</text><text x="35.84" y="5.4" font-size="7.84">2</text></g>
<path d="M248,199.9 H270.7" stroke="#000" stroke-width="1.5" stroke-opacity="0.72"/>
<path d="M248,216.15 H270.7" stroke="#ff0000" stroke-width="1.5" stroke-opacity="0.72"/>
<path d="M248,232.4 H270.7" stroke="#0000ff" stroke-width="1.5" stroke-opacity="0.72"/>
<path d="M248,248.65 H270.7" stroke="#008000" stroke-width="1.5" stroke-opacity="0.72"/>
<g clip-path="url(#cr)">
<path d="M496.45,25.5 V52 M498.22,24.5 V52 M499.99,23.5 V53 M501.75,22.3 V55 M503.52,20.8 V56.4 M505.29,19.3 V56.4 M507.06,17.8 V57 M508.83,16.6 V58 M510.59,15 V58.8 M512.36,13.6 V59 M514.13,12.4 V58.8 M515.9,9.5 V57 M517.67,8 V56.4 M519.43,7.4 V56 M521.2,7.4 V55 M522.97,8.6 V54 M524.74,8.6 V53 M526.51,7 V53 M528.27,5.4 V53 M530.04,5 V53 M531.81,4.4 V65.2 M540.65,9.3 V64.5 M549.49,17.5 V79.5 M567.17,43 V129 M602.53,78 V216.25 M620.21,102 V300 M637.89,109.25 V300 M655.57,133.25 V247.25 M673.25,156.5 V300 M493.45,25.5 H499.45 M493.45,52 H499.45 M495.22,24.5 H501.22 M495.22,52 H501.22 M496.99,23.5 H502.99 M496.99,53 H502.99 M498.75,22.3 H504.75 M498.75,55 H504.75 M500.52,20.8 H506.52 M500.52,56.4 H506.52 M502.29,19.3 H508.29 M502.29,56.4 H508.29 M504.06,17.8 H510.06 M504.06,57 H510.06 M505.83,16.6 H511.83 M505.83,58 H511.83 M507.59,15 H513.59 M507.59,58.8 H513.59 M509.36,13.6 H515.36 M509.36,59 H515.36 M511.13,12.4 H517.13 M511.13,58.8 H517.13 M512.9,9.5 H518.9 M512.9,57 H518.9 M514.67,8 H520.67 M514.67,56.4 H520.67 M516.43,7.4 H522.43 M516.43,56 H522.43 M518.2,7.4 H524.2 M518.2,55 H524.2 M519.97,8.6 H525.97 M519.97,54 H525.97 M521.74,8.6 H527.74 M521.74,53 H527.74 M523.51,7 H529.51 M523.51,53 H529.51 M525.27,5.4 H531.27 M525.27,53 H531.27 M527.04,5 H533.04 M527.04,53 H533.04 M528.81,4.4 H534.81 M528.81,65.2 H534.81 M537.65,9.3 H543.65 M537.65,64.5 H543.65 M546.49,17.5 H552.49 M546.49,79.5 H552.49 M564.17,43 H570.17 M564.17,129 H570.17 M599.53,78 H605.53 M599.53,216.25 H605.53 M617.21,102 H623.21 M634.89,109.25 H640.89 M652.57,133.25 H658.57 M652.57,247.25 H658.57 M670.25,156.5 H676.25" stroke="#000" stroke-width="1.15" fill="none" stroke-opacity="0.93"/>
<circle cx="496.45" cy="26.4" r="3.0" fill="#1f77b4"/>
<circle cx="498.22" cy="39.6" r="3.0" fill="#1f77b4"/>
<circle cx="499.99" cy="38.6" r="3.0" fill="#1f77b4"/>
<circle cx="501.75" cy="37.5" r="3.0" fill="#1f77b4"/>
<circle cx="503.52" cy="36.5" r="3.0" fill="#1f77b4"/>
<circle cx="505.29" cy="35.5" r="3.0" fill="#1f77b4"/>
<circle cx="507.06" cy="34.4" r="3.0" fill="#1f77b4"/>
<circle cx="508.83" cy="33.4" r="3.0" fill="#1f77b4"/>
<circle cx="510.59" cy="32.4" r="3.0" fill="#1f77b4"/>
<circle cx="512.36" cy="31.6" r="3.0" fill="#1f77b4"/>
<circle cx="514.13" cy="30.8" r="3.0" fill="#1f77b4"/>
<circle cx="515.9" cy="25" r="3.0" fill="#1f77b4"/>
<circle cx="517.67" cy="25.2" r="3.0" fill="#1f77b4"/>
<circle cx="519.43" cy="25.8" r="3.0" fill="#1f77b4"/>
<circle cx="521.2" cy="27.2" r="3.0" fill="#1f77b4"/>
<circle cx="522.97" cy="28.8" r="3.0" fill="#1f77b4"/>
<circle cx="524.74" cy="27" r="3.0" fill="#1f77b4"/>
<circle cx="526.51" cy="25.2" r="3.0" fill="#1f77b4"/>
<circle cx="528.27" cy="25.2" r="3.0" fill="#1f77b4"/>
<circle cx="530.04" cy="26.8" r="3.0" fill="#1f77b4"/>
<circle cx="531.81" cy="28.2" r="3.0" fill="#1f77b4"/>
<circle cx="540.65" cy="31.5" r="3.0" fill="#1f77b4"/>
<circle cx="549.49" cy="41" r="3.0" fill="#1f77b4"/>
<circle cx="567.17" cy="72.5" r="3.0" fill="#1f77b4"/>
<circle cx="602.53" cy="115.5" r="3.0" fill="#1f77b4"/>
<circle cx="620.21" cy="148.75" r="3.0" fill="#1f77b4"/>
<circle cx="637.89" cy="159.25" r="3.0" fill="#1f77b4"/>
<circle cx="655.57" cy="168" r="3.0" fill="#1f77b4"/>
<circle cx="673.25" cy="196" r="3.0" fill="#1f77b4"/>
</g>
<path d="M487.6,0.6 V264.9" stroke="#000" stroke-width="0.62"/><path d="M682.4,0.6 V264.9" stroke="#000" stroke-width="0.62"/><path d="M487.3,264.9 H682.7" stroke="#000" stroke-width="0.66"/><rect x="487.2" y="0" width="195.6" height="1.7" fill="#b3b3b3"/>
<path d="M496.45,264.9 V267.2 M540.65,264.9 V267.2 M584.85,264.9 V267.2 M629.05,264.9 V267.2 M673.25,264.9 V267.2 M487.6,161.5 H485.2 M487.6,12.5 H485.2" stroke="#000" stroke-width="0.8" fill="none"/>
<path d="M487.6,239.41 H486.2 M487.6,220.79 H486.2 M487.6,206.35 H486.2 M487.6,194.56 H486.2 M487.6,184.58 H486.2 M487.6,175.94 H486.2 M487.6,168.32 H486.2 M487.6,116.65 H486.2 M487.6,90.41 H486.2 M487.6,71.79 H486.2 M487.6,57.35 H486.2 M487.6,45.56 H486.2 M487.6,35.58 H486.2 M487.6,26.94 H486.2 M487.6,19.32 H486.2" stroke="#000" stroke-width="0.6" fill="none"/>
<g transform="translate(482.6,0) scale(1.06,1) translate(-482.6,0)"><text x="465.29" y="165.1" font-size="11.2">10</text><text x="478.24" y="160.7" font-size="7.84">1</text></g>
<g transform="translate(482.6,0) scale(1.06,1) translate(-482.6,0)"><text x="465.29" y="16.1" font-size="11.2">10</text><text x="478.24" y="11.7" font-size="7.84">2</text></g>
<text x="240" y="290" font-size="11.2" text-anchor="middle"><tspan font-style="italic">t</tspan>J</text>
<text transform="translate(10.4,132.2) rotate(-90)" font-size="11.4" text-anchor="middle" textLength="39.5" lengthAdjust="spacingAndGlyphs">MSD/<tspan font-style="italic">a</tspan><tspan font-size="7.8" dy="-4.3">2</tspan></text>
<text x="65.2" y="26.9" font-size="11.4" textLength="14.4" lengthAdjust="spacingAndGlyphs">(a)</text>
<text x="279.1" y="203.8" font-size="10.9">Without disorder (<tspan font-style="italic">V</tspan><tspan font-style="italic" font-size="8.2" dy="2.6">d</tspan><tspan dy="-2.6"> = 0</tspan><tspan font-style="italic">J</tspan>)</text>
<text x="279.1" y="220.05" font-size="10.9">Disorder Avareged (<tspan font-style="italic">V</tspan><tspan font-style="italic" font-size="8.2" dy="2.6">d</tspan><tspan dy="-2.6"> = 0.1</tspan><tspan font-style="italic">J</tspan>)</text>
<text x="279.1" y="236.3" font-size="10.9">Disorder Avareged (<tspan font-style="italic">V</tspan><tspan font-style="italic" font-size="8.2" dy="2.6">d</tspan><tspan dy="-2.6"> = 1</tspan><tspan font-style="italic">J</tspan>)</text>
<text x="279.1" y="252.55" font-size="10.9">Disorder Avareged (<tspan font-style="italic">V</tspan><tspan font-style="italic" font-size="8.2" dy="2.6">d</tspan><tspan dy="-2.6"> = 10</tspan><tspan font-style="italic">J</tspan>)</text>
<text x="496.45" y="277.8" font-size="11.2" text-anchor="middle" letter-spacing="0.4">0.0</text>
<text x="540.65" y="277.8" font-size="11.2" text-anchor="middle" letter-spacing="0.4">2.5</text>
<text x="584.85" y="277.8" font-size="11.2" text-anchor="middle" letter-spacing="0.4">5.0</text>
<text x="629.05" y="277.8" font-size="11.2" text-anchor="middle" letter-spacing="0.4">7.5</text>
<text x="673.25" y="277.8" font-size="11.2" text-anchor="middle" letter-spacing="0.4">10.0</text>
<text x="585" y="289.6" font-size="11.2" text-anchor="middle"><tspan font-style="italic">V</tspan><tspan font-style="italic" font-size="7.8" dy="2">d</tspan><tspan dy="-2">/J</tspan></text>
<text transform="translate(460.4,132.7) rotate(-90)" font-size="11.4" text-anchor="middle" textLength="48.5" lengthAdjust="spacingAndGlyphs">MSD<tspan font-size="7.8" dy="2">av</tspan><tspan dy="-2">/</tspan><tspan font-style="italic">a</tspan><tspan font-size="7.8" dy="-4.3">2</tspan></text>
<text x="643.6" y="27.4" font-size="11.4" textLength="15.6" lengthAdjust="spacingAndGlyphs">(b)</text>
</svg></body></html>
